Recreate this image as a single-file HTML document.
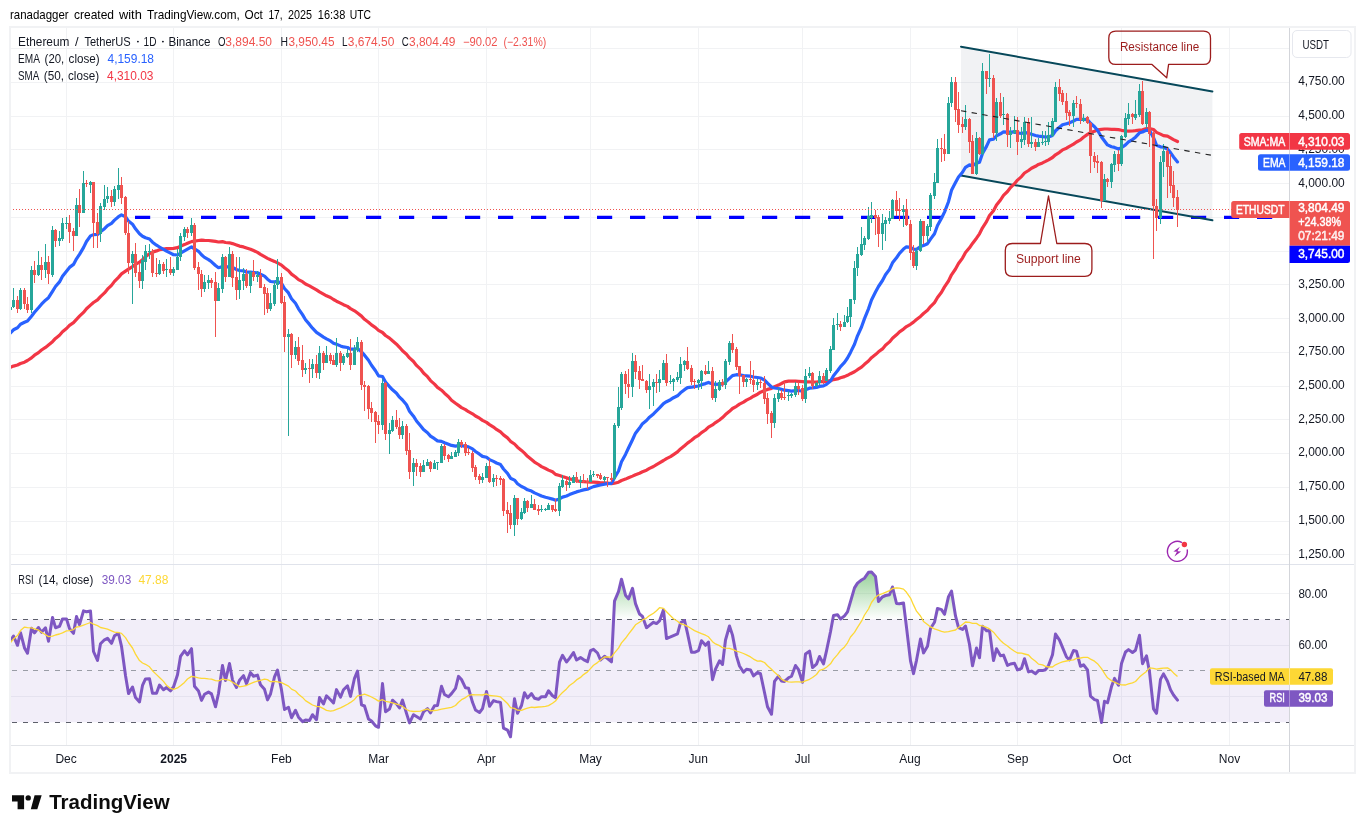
<!DOCTYPE html><html><head><meta charset="utf-8"><title>ETHUSDT</title><style>html,body{margin:0;padding:0;background:#fff;overflow:hidden}body{width:1365px;height:833px;font-family:"Liberation Sans",sans-serif}</style></head><body><svg width="1365" height="833" viewBox="0 0 1365 833" style="display:block;font-family:'Liberation Sans',sans-serif;will-change:transform">
<defs>
<clipPath id="cm"><rect x="10.5" y="27.5" width="1279" height="536.5"/></clipPath>
<clipPath id="cr"><rect x="10.5" y="565" width="1279" height="180"/></clipPath>
<clipPath id="cob"><rect x="10.5" y="565" width="1279" height="54.5"/></clipPath>
<linearGradient id="gob" x1="0" y1="542" x2="0" y2="619.3" gradientUnits="userSpaceOnUse"><stop offset="0" stop-color="#4caf50" stop-opacity="1"/><stop offset="1" stop-color="#4caf50" stop-opacity="0"/></linearGradient>
</defs>
<rect width="1365" height="833" fill="#fff"/>
<g stroke="#f1f2f4" stroke-width="1" shape-rendering="crispEdges">
<line x1="66.5" y1="28" x2="66.5" y2="745"/>
<line x1="173.5" y1="28" x2="173.5" y2="745"/>
<line x1="281.5" y1="28" x2="281.5" y2="745"/>
<line x1="378.5" y1="28" x2="378.5" y2="745"/>
<line x1="486.5" y1="28" x2="486.5" y2="745"/>
<line x1="590.5" y1="28" x2="590.5" y2="745"/>
<line x1="698.5" y1="28" x2="698.5" y2="745"/>
<line x1="802.5" y1="28" x2="802.5" y2="745"/>
<line x1="910.5" y1="28" x2="910.5" y2="745"/>
<line x1="1017.5" y1="28" x2="1017.5" y2="745"/>
<line x1="1121.5" y1="28" x2="1121.5" y2="745"/>
<line x1="1229.5" y1="28" x2="1229.5" y2="745"/>
<line x1="11" y1="554.5" x2="1289" y2="554.5"/>
<line x1="11" y1="521.5" x2="1289" y2="521.5"/>
<line x1="11" y1="487.5" x2="1289" y2="487.5"/>
<line x1="11" y1="453.5" x2="1289" y2="453.5"/>
<line x1="11" y1="419.5" x2="1289" y2="419.5"/>
<line x1="11" y1="386.5" x2="1289" y2="386.5"/>
<line x1="11" y1="352.5" x2="1289" y2="352.5"/>
<line x1="11" y1="318.5" x2="1289" y2="318.5"/>
<line x1="11" y1="284.5" x2="1289" y2="284.5"/>
<line x1="11" y1="251.5" x2="1289" y2="251.5"/>
<line x1="11" y1="217.5" x2="1289" y2="217.5"/>
<line x1="11" y1="183.5" x2="1289" y2="183.5"/>
<line x1="11" y1="149.5" x2="1289" y2="149.5"/>
<line x1="11" y1="116.5" x2="1289" y2="116.5"/>
<line x1="11" y1="82.5" x2="1289" y2="82.5"/>
<line x1="11" y1="48.5" x2="1289" y2="48.5"/>
<line x1="11" y1="696.5" x2="1289" y2="696.5"/>
<line x1="11" y1="645.5" x2="1289" y2="645.5"/>
<line x1="11" y1="593.5" x2="1289" y2="593.5"/>
</g>
<g clip-path="url(#cm)">
<polygon points="961.0,46.2 1212.4,90.9 1212.4,220.0 961.0,175.2" fill="#8a93a6" fill-opacity="0.12"/>
<line x1="135" y1="217.4" x2="1289" y2="217.4" stroke="#0000ff" stroke-width="3.2" stroke-dasharray="15.2 17.8"/>
<line x1="961.0" y1="46.7" x2="1212.4" y2="91.4" stroke="#07485a" stroke-width="2" stroke-linecap="round"/>
<line x1="961.0" y1="175.5" x2="1212.4" y2="220.3" stroke="#07485a" stroke-width="2" stroke-linecap="round"/>
<polyline points="10.5,367.3 13.5,366.1 17.5,365.0 20.5,363.5 24.5,362.2 27.5,360.5 31.5,357.9 34.5,355.2 38.5,352.6 41.5,350.0 45.5,347.4 48.5,345.0 52.5,341.7 55.5,338.4 59.5,335.2 62.5,331.8 66.5,328.5 69.5,325.3 73.5,322.6 76.5,319.3 79.5,316.2 83.5,312.4 86.5,308.7 90.5,305.1 93.5,302.5 97.5,299.9 100.5,296.6 104.5,292.9 107.5,289.2 111.5,285.4 114.5,281.4 118.5,277.4 121.5,273.9 125.5,271.2 128.5,269.1 132.5,266.6 135.5,264.3 139.5,262.2 142.5,259.6 145.5,256.6 149.5,253.7 152.5,252.1 156.5,250.9 159.5,249.7 163.5,249.1 166.5,248.6 170.5,248.7 173.5,248.4 177.5,247.7 180.5,246.2 184.5,244.6 187.5,243.3 191.5,241.6 194.5,241.1 198.5,240.5 201.5,240.1 204.5,240.4 208.5,240.5 211.5,240.8 215.5,241.4 218.5,242.0 222.5,241.6 225.5,242.5 229.5,242.8 232.5,243.6 236.5,244.9 239.5,246.1 243.5,246.9 246.5,247.9 250.5,249.2 253.5,250.5 257.5,252.4 260.5,254.4 264.5,256.7 267.5,258.4 270.5,259.8 274.5,261.4 277.5,262.9 281.5,265.1 284.5,267.8 288.5,270.7 291.5,274.1 295.5,277.0 298.5,279.6 302.5,281.7 305.5,284.0 309.5,285.9 312.5,287.6 316.5,289.9 319.5,291.9 323.5,294.1 326.5,295.8 330.5,297.5 333.5,299.5 336.5,301.2 340.5,303.1 343.5,304.7 347.5,306.4 350.5,308.6 354.5,310.8 357.5,313.1 361.5,316.1 364.5,319.3 368.5,322.2 371.5,324.9 375.5,327.6 378.5,330.4 382.5,332.5 385.5,335.5 389.5,338.1 392.5,340.8 396.5,344.2 399.5,347.3 402.5,350.8 406.5,354.2 409.5,357.9 413.5,361.5 416.5,365.4 420.5,369.1 423.5,373.0 427.5,376.7 430.5,380.6 434.5,384.1 437.5,387.4 441.5,390.2 444.5,393.2 448.5,396.7 451.5,400.3 455.5,403.3 458.5,405.4 461.5,407.6 465.5,409.6 468.5,411.7 472.5,413.8 475.5,416.0 479.5,418.2 482.5,420.4 486.5,422.4 489.5,424.6 493.5,427.1 496.5,429.4 500.5,431.9 503.5,434.9 507.5,437.9 510.5,441.3 514.5,444.0 517.5,447.2 521.5,450.4 524.5,453.1 527.5,456.3 531.5,459.6 534.5,462.1 538.5,464.5 541.5,466.6 545.5,468.5 548.5,470.1 552.5,471.8 555.5,474.4 559.5,475.5 562.5,476.5 566.5,477.7 569.5,478.9 573.5,479.7 576.5,480.8 580.5,481.4 583.5,481.6 587.5,482.0 590.5,482.2 593.5,482.2 597.5,482.4 600.5,482.8 604.5,482.9 607.5,483.2 611.5,483.6 614.5,483.2 618.5,482.2 621.5,480.5 625.5,479.1 628.5,477.8 632.5,476.1 635.5,474.7 639.5,473.2 642.5,471.8 646.5,470.2 649.5,468.4 653.5,466.5 656.5,464.6 659.5,462.8 663.5,460.5 666.5,458.6 670.5,456.6 673.5,454.6 677.5,451.9 680.5,448.9 684.5,445.7 687.5,443.1 691.5,440.3 694.5,437.7 698.5,435.3 701.5,432.6 705.5,430.0 708.5,427.2 712.5,424.9 715.5,422.6 719.5,420.0 722.5,417.6 725.5,414.6 729.5,411.3 732.5,408.5 736.5,406.3 739.5,404.1 743.5,402.1 746.5,400.1 750.5,398.1 753.5,396.2 757.5,394.2 760.5,392.2 764.5,390.6 767.5,389.4 771.5,388.4 774.5,386.7 778.5,385.1 781.5,383.5 784.5,381.8 788.5,381.2 791.5,381.0 795.5,381.2 798.5,381.3 802.5,381.6 805.5,381.8 809.5,381.9 812.5,382.0 816.5,382.0 819.5,381.7 823.5,381.6 826.5,381.4 830.5,380.7 833.5,379.6 837.5,378.9 840.5,377.7 844.5,376.6 847.5,375.3 850.5,373.7 854.5,371.8 857.5,369.7 861.5,367.2 864.5,364.3 868.5,361.0 871.5,357.7 875.5,354.6 878.5,351.8 882.5,348.9 885.5,345.3 889.5,341.9 892.5,338.3 896.5,334.8 899.5,331.8 903.5,329.1 906.5,326.6 910.5,324.3 913.5,322.1 916.5,319.5 920.5,316.4 923.5,313.5 927.5,310.3 930.5,306.6 934.5,302.6 937.5,297.5 941.5,292.3 944.5,286.9 948.5,281.0 951.5,274.8 955.5,269.0 958.5,263.5 962.5,258.1 965.5,252.6 969.5,247.8 972.5,243.4 976.5,238.2 979.5,233.8 982.5,227.8 986.5,221.6 989.5,215.5 993.5,210.7 996.5,205.1 1000.5,200.0 1003.5,195.3 1007.5,191.5 1010.5,187.6 1014.5,183.7 1017.5,180.1 1021.5,176.6 1024.5,173.0 1028.5,170.5 1031.5,168.3 1035.5,166.3 1038.5,164.4 1042.5,162.9 1045.5,161.4 1048.5,159.8 1052.5,157.5 1055.5,154.8 1059.5,152.3 1062.5,149.9 1066.5,148.2 1069.5,146.3 1073.5,144.1 1076.5,142.0 1080.5,139.9 1083.5,137.2 1087.5,134.4 1090.5,132.5 1094.5,131.3 1097.5,129.9 1101.5,129.4 1104.5,129.0 1107.5,129.0 1111.5,129.3 1114.5,129.4 1118.5,129.6 1121.5,130.3 1125.5,131.0 1128.5,131.1 1132.5,131.0 1135.5,130.7 1139.5,130.1 1142.5,129.8 1146.5,128.6 1149.5,128.5 1153.5,129.5 1156.5,132.4 1160.5,134.1 1163.5,135.6 1167.5,136.2 1170.5,137.9 1173.5,139.6 1177.5,141.5" fill="none" stroke="#f23645" stroke-width="3.2" stroke-linejoin="round" stroke-linecap="round"/>
<polyline points="10.5,332.9 13.5,329.8 17.5,327.8 20.5,324.2 24.5,322.3 27.5,321.1 31.5,316.3 34.5,312.3 38.5,307.8 41.5,304.2 45.5,300.2 48.5,297.7 52.5,291.3 55.5,286.5 59.5,281.9 62.5,276.3 66.5,271.2 69.5,267.4 73.5,264.4 76.5,258.8 79.5,254.4 83.5,247.6 86.5,241.5 90.5,235.9 93.5,234.6 97.5,234.5 100.5,231.8 104.5,228.7 107.5,225.6 111.5,223.3 114.5,220.1 118.5,216.7 121.5,214.9 125.5,216.7 128.5,221.1 132.5,224.2 135.5,228.8 139.5,233.7 142.5,236.2 145.5,237.7 149.5,239.0 152.5,242.2 156.5,245.2 159.5,247.0 163.5,249.3 166.5,251.1 170.5,253.2 173.5,254.7 177.5,255.0 180.5,253.2 184.5,250.8 187.5,249.1 191.5,246.8 194.5,248.8 198.5,251.3 201.5,254.8 204.5,257.4 208.5,259.6 211.5,261.8 215.5,265.5 218.5,267.7 222.5,266.6 225.5,267.6 229.5,266.3 232.5,267.4 236.5,269.5 239.5,270.5 243.5,270.8 246.5,272.2 250.5,272.2 253.5,272.6 257.5,272.8 260.5,274.3 264.5,276.1 267.5,279.2 270.5,281.5 274.5,281.8 277.5,281.4 281.5,283.4 284.5,288.5 288.5,292.9 291.5,298.7 295.5,303.3 298.5,308.8 302.5,314.6 305.5,319.7 309.5,324.4 312.5,328.2 316.5,332.4 319.5,334.4 323.5,337.1 326.5,338.8 330.5,340.9 333.5,343.2 336.5,344.2 340.5,345.9 343.5,346.9 347.5,347.5 350.5,349.2 354.5,349.1 357.5,348.5 361.5,351.9 364.5,355.2 368.5,360.3 371.5,365.3 375.5,370.7 378.5,375.8 382.5,376.5 385.5,382.0 389.5,386.6 392.5,389.8 396.5,393.3 399.5,397.2 402.5,400.0 406.5,404.8 409.5,411.2 413.5,416.2 416.5,421.0 420.5,425.8 423.5,429.6 427.5,432.7 430.5,436.1 434.5,438.7 437.5,440.9 441.5,441.4 444.5,442.8 448.5,444.3 451.5,445.4 455.5,446.1 458.5,445.7 461.5,445.6 465.5,446.3 468.5,446.9 472.5,448.9 475.5,451.5 479.5,454.2 482.5,456.4 486.5,457.3 489.5,459.6 493.5,461.4 496.5,463.0 500.5,464.6 503.5,469.0 507.5,473.3 510.5,478.2 514.5,480.1 517.5,483.7 521.5,486.5 524.5,487.9 527.5,489.8 531.5,491.1 534.5,492.9 538.5,494.6 541.5,496.0 545.5,497.2 548.5,498.0 552.5,499.1 555.5,500.2 559.5,498.9 562.5,497.1 566.5,496.0 569.5,494.6 573.5,493.0 576.5,491.9 580.5,490.8 583.5,489.9 587.5,489.2 590.5,487.9 593.5,486.6 597.5,485.6 600.5,485.0 604.5,484.2 607.5,483.7 611.5,483.3 614.5,477.7 618.5,471.0 621.5,461.8 625.5,454.4 628.5,448.0 632.5,439.7 635.5,433.2 639.5,428.1 642.5,423.7 646.5,420.5 649.5,417.2 653.5,413.9 656.5,410.9 659.5,407.9 663.5,403.6 666.5,401.7 670.5,399.7 673.5,397.7 677.5,395.8 680.5,392.8 684.5,389.7 687.5,387.7 691.5,387.2 694.5,386.6 698.5,386.0 701.5,384.6 705.5,383.6 708.5,382.4 712.5,383.9 715.5,384.4 719.5,384.2 722.5,384.2 725.5,382.0 729.5,378.3 732.5,375.6 736.5,374.7 739.5,374.8 743.5,375.5 746.5,375.8 750.5,376.2 753.5,377.0 757.5,377.5 760.5,378.0 764.5,380.0 767.5,383.2 771.5,387.0 774.5,388.0 778.5,388.5 781.5,389.4 784.5,390.2 788.5,390.7 791.5,391.1 795.5,390.6 798.5,390.5 802.5,391.3 805.5,389.8 809.5,388.2 812.5,387.9 816.5,387.4 819.5,386.4 823.5,385.9 826.5,384.4 830.5,381.0 833.5,375.7 837.5,370.8 840.5,366.6 844.5,362.4 847.5,358.0 850.5,352.4 854.5,344.3 857.5,335.8 861.5,327.0 864.5,318.6 868.5,308.8 871.5,299.9 875.5,292.1 878.5,286.5 882.5,280.5 885.5,274.7 889.5,269.4 892.5,262.8 896.5,257.8 899.5,253.3 903.5,249.1 906.5,246.8 910.5,247.4 913.5,249.1 916.5,249.3 920.5,246.6 923.5,245.6 927.5,243.7 930.5,239.1 934.5,233.7 937.5,225.5 941.5,218.3 944.5,212.1 948.5,201.7 951.5,190.3 955.5,182.6 958.5,177.1 962.5,172.3 965.5,167.3 969.5,164.8 972.5,165.7 976.5,163.1 979.5,162.2 982.5,153.5 986.5,146.4 989.5,139.9 993.5,139.2 996.5,135.7 1000.5,133.8 1003.5,131.9 1007.5,132.2 1010.5,132.1 1014.5,131.9 1017.5,132.9 1021.5,133.5 1024.5,132.4 1028.5,133.4 1031.5,134.3 1035.5,135.5 1038.5,136.1 1042.5,136.6 1045.5,137.0 1048.5,136.9 1052.5,135.4 1055.5,130.8 1059.5,127.2 1062.5,124.8 1066.5,123.7 1069.5,122.9 1073.5,121.0 1076.5,119.4 1080.5,119.4 1083.5,119.3 1087.5,119.7 1090.5,123.2 1094.5,126.8 1097.5,130.3 1101.5,137.0 1104.5,141.0 1107.5,144.9 1111.5,146.7 1114.5,147.4 1118.5,148.9 1121.5,147.7 1125.5,144.9 1128.5,141.9 1132.5,139.6 1135.5,137.2 1139.5,132.8 1142.5,132.0 1146.5,130.1 1149.5,130.4 1153.5,137.6 1156.5,145.2 1160.5,146.8 1163.5,147.2 1167.5,149.1 1170.5,152.6 1173.5,156.9 1177.5,161.9" fill="none" stroke="#2962ff" stroke-width="3.2" stroke-linejoin="round" stroke-linecap="round"/>
<g shape-rendering="crispEdges"><rect x="10" y="300" width="1" height="16" fill="#26a69a"/><rect x="13" y="288" width="1" height="20" fill="#26a69a"/><rect x="17" y="296" width="1" height="17" fill="#ef5350"/><rect x="20" y="288" width="1" height="22" fill="#26a69a"/><rect x="24" y="288" width="1" height="21" fill="#ef5350"/><rect x="27" y="297" width="1" height="16" fill="#ef5350"/><rect x="31" y="266" width="1" height="47" fill="#26a69a"/><rect x="34" y="261" width="1" height="22" fill="#ef5350"/><rect x="38" y="251" width="1" height="25" fill="#26a69a"/><rect x="41" y="257" width="1" height="23" fill="#ef5350"/><rect x="45" y="244" width="1" height="34" fill="#26a69a"/><rect x="48" y="256" width="1" height="28" fill="#ef5350"/><rect x="52" y="226" width="1" height="51" fill="#26a69a"/><rect x="55" y="229" width="1" height="18" fill="#ef5350"/><rect x="59" y="231" width="1" height="15" fill="#26a69a"/><rect x="62" y="218" width="1" height="23" fill="#26a69a"/><rect x="66" y="217" width="1" height="12" fill="#26a69a"/><rect x="69" y="215" width="1" height="28" fill="#ef5350"/><rect x="73" y="228" width="1" height="23" fill="#ef5350"/><rect x="76" y="198" width="1" height="38" fill="#26a69a"/><rect x="79" y="189" width="1" height="38" fill="#ef5350"/><rect x="83" y="171" width="1" height="42" fill="#26a69a"/><rect x="86" y="180" width="1" height="7" fill="#ef5350"/><rect x="90" y="181" width="1" height="12" fill="#26a69a"/><rect x="93" y="182" width="1" height="66" fill="#ef5350"/><rect x="97" y="213" width="1" height="35" fill="#ef5350"/><rect x="100" y="203" width="1" height="39" fill="#26a69a"/><rect x="104" y="185" width="1" height="25" fill="#26a69a"/><rect x="107" y="187" width="1" height="16" fill="#26a69a"/><rect x="111" y="190" width="1" height="17" fill="#ef5350"/><rect x="114" y="186" width="1" height="20" fill="#26a69a"/><rect x="118" y="168" width="1" height="31" fill="#26a69a"/><rect x="121" y="177" width="1" height="27" fill="#ef5350"/><rect x="125" y="196" width="1" height="39" fill="#ef5350"/><rect x="128" y="221" width="1" height="53" fill="#ef5350"/><rect x="132" y="251" width="1" height="53" fill="#26a69a"/><rect x="135" y="243" width="1" height="34" fill="#ef5350"/><rect x="139" y="264" width="1" height="24" fill="#ef5350"/><rect x="142" y="255" width="1" height="34" fill="#26a69a"/><rect x="145" y="245" width="1" height="25" fill="#26a69a"/><rect x="149" y="244" width="1" height="15" fill="#26a69a"/><rect x="152" y="249" width="1" height="28" fill="#ef5350"/><rect x="156" y="258" width="1" height="19" fill="#ef5350"/><rect x="159" y="260" width="1" height="15" fill="#26a69a"/><rect x="163" y="262" width="1" height="12" fill="#ef5350"/><rect x="166" y="259" width="1" height="18" fill="#26a69a"/><rect x="170" y="257" width="1" height="18" fill="#ef5350"/><rect x="173" y="267" width="1" height="9" fill="#26a69a"/><rect x="177" y="249" width="1" height="21" fill="#26a69a"/><rect x="180" y="233" width="1" height="28" fill="#26a69a"/><rect x="184" y="227" width="1" height="14" fill="#26a69a"/><rect x="187" y="227" width="1" height="11" fill="#ef5350"/><rect x="191" y="218" width="1" height="18" fill="#26a69a"/><rect x="194" y="223" width="1" height="47" fill="#ef5350"/><rect x="198" y="262" width="1" height="28" fill="#ef5350"/><rect x="201" y="270" width="1" height="27" fill="#ef5350"/><rect x="204" y="275" width="1" height="17" fill="#26a69a"/><rect x="208" y="275" width="1" height="14" fill="#26a69a"/><rect x="211" y="278" width="1" height="10" fill="#ef5350"/><rect x="215" y="272" width="1" height="65" fill="#ef5350"/><rect x="218" y="283" width="1" height="18" fill="#26a69a"/><rect x="222" y="254" width="1" height="39" fill="#26a69a"/><rect x="225" y="256" width="1" height="26" fill="#ef5350"/><rect x="229" y="247" width="1" height="30" fill="#26a69a"/><rect x="232" y="251" width="1" height="36" fill="#ef5350"/><rect x="236" y="257" width="1" height="43" fill="#ef5350"/><rect x="239" y="257" width="1" height="42" fill="#26a69a"/><rect x="243" y="268" width="1" height="22" fill="#26a69a"/><rect x="246" y="269" width="1" height="19" fill="#ef5350"/><rect x="250" y="271" width="1" height="22" fill="#26a69a"/><rect x="253" y="260" width="1" height="21" fill="#ef5350"/><rect x="257" y="271" width="1" height="11" fill="#26a69a"/><rect x="260" y="269" width="1" height="19" fill="#ef5350"/><rect x="264" y="284" width="1" height="31" fill="#ef5350"/><rect x="267" y="288" width="1" height="25" fill="#ef5350"/><rect x="270" y="293" width="1" height="18" fill="#26a69a"/><rect x="274" y="281" width="1" height="25" fill="#26a69a"/><rect x="277" y="259" width="1" height="30" fill="#26a69a"/><rect x="281" y="273" width="1" height="31" fill="#ef5350"/><rect x="284" y="296" width="1" height="56" fill="#ef5350"/><rect x="288" y="329" width="1" height="107" fill="#26a69a"/><rect x="291" y="333" width="1" height="35" fill="#ef5350"/><rect x="295" y="341" width="1" height="18" fill="#26a69a"/><rect x="298" y="337" width="1" height="28" fill="#ef5350"/><rect x="302" y="345" width="1" height="32" fill="#ef5350"/><rect x="305" y="363" width="1" height="11" fill="#26a69a"/><rect x="309" y="359" width="1" height="24" fill="#ef5350"/><rect x="312" y="359" width="1" height="19" fill="#26a69a"/><rect x="316" y="355" width="1" height="23" fill="#ef5350"/><rect x="319" y="346" width="1" height="33" fill="#26a69a"/><rect x="323" y="351" width="1" height="19" fill="#ef5350"/><rect x="326" y="346" width="1" height="17" fill="#26a69a"/><rect x="330" y="353" width="1" height="11" fill="#ef5350"/><rect x="333" y="355" width="1" height="10" fill="#ef5350"/><rect x="336" y="338" width="1" height="29" fill="#26a69a"/><rect x="340" y="351" width="1" height="20" fill="#ef5350"/><rect x="343" y="354" width="1" height="11" fill="#26a69a"/><rect x="347" y="349" width="1" height="9" fill="#26a69a"/><rect x="350" y="339" width="1" height="31" fill="#ef5350"/><rect x="354" y="345" width="1" height="20" fill="#26a69a"/><rect x="357" y="337" width="1" height="15" fill="#26a69a"/><rect x="361" y="340" width="1" height="50" fill="#ef5350"/><rect x="364" y="381" width="1" height="30" fill="#ef5350"/><rect x="368" y="385" width="1" height="34" fill="#ef5350"/><rect x="371" y="402" width="1" height="20" fill="#ef5350"/><rect x="375" y="411" width="1" height="32" fill="#ef5350"/><rect x="378" y="415" width="1" height="19" fill="#ef5350"/><rect x="382" y="379" width="1" height="51" fill="#26a69a"/><rect x="385" y="382" width="1" height="58" fill="#ef5350"/><rect x="389" y="423" width="1" height="31" fill="#26a69a"/><rect x="392" y="416" width="1" height="16" fill="#26a69a"/><rect x="396" y="410" width="1" height="19" fill="#ef5350"/><rect x="399" y="418" width="1" height="21" fill="#ef5350"/><rect x="402" y="421" width="1" height="18" fill="#26a69a"/><rect x="406" y="424" width="1" height="31" fill="#ef5350"/><rect x="409" y="433" width="1" height="46" fill="#ef5350"/><rect x="413" y="458" width="1" height="28" fill="#26a69a"/><rect x="416" y="459" width="1" height="17" fill="#ef5350"/><rect x="420" y="463" width="1" height="14" fill="#ef5350"/><rect x="423" y="460" width="1" height="12" fill="#26a69a"/><rect x="427" y="459" width="1" height="7" fill="#26a69a"/><rect x="430" y="461" width="1" height="11" fill="#ef5350"/><rect x="434" y="460" width="1" height="9" fill="#26a69a"/><rect x="437" y="462" width="1" height="8" fill="#26a69a"/><rect x="441" y="444" width="1" height="19" fill="#26a69a"/><rect x="444" y="444" width="1" height="16" fill="#ef5350"/><rect x="448" y="454" width="1" height="8" fill="#ef5350"/><rect x="451" y="452" width="1" height="7" fill="#26a69a"/><rect x="455" y="450" width="1" height="7" fill="#26a69a"/><rect x="458" y="439" width="1" height="17" fill="#26a69a"/><rect x="461" y="440" width="1" height="8" fill="#ef5350"/><rect x="465" y="442" width="1" height="14" fill="#ef5350"/><rect x="468" y="448" width="1" height="7" fill="#ef5350"/><rect x="472" y="451" width="1" height="21" fill="#ef5350"/><rect x="475" y="465" width="1" height="15" fill="#ef5350"/><rect x="479" y="474" width="1" height="10" fill="#ef5350"/><rect x="482" y="473" width="1" height="10" fill="#26a69a"/><rect x="486" y="463" width="1" height="15" fill="#26a69a"/><rect x="489" y="459" width="1" height="24" fill="#ef5350"/><rect x="493" y="474" width="1" height="13" fill="#26a69a"/><rect x="496" y="475" width="1" height="11" fill="#ef5350"/><rect x="500" y="476" width="1" height="9" fill="#ef5350"/><rect x="503" y="478" width="1" height="38" fill="#ef5350"/><rect x="507" y="502" width="1" height="31" fill="#ef5350"/><rect x="510" y="505" width="1" height="24" fill="#ef5350"/><rect x="514" y="495" width="1" height="41" fill="#26a69a"/><rect x="517" y="498" width="1" height="27" fill="#ef5350"/><rect x="521" y="508" width="1" height="12" fill="#26a69a"/><rect x="524" y="498" width="1" height="16" fill="#26a69a"/><rect x="527" y="500" width="1" height="12" fill="#ef5350"/><rect x="531" y="495" width="1" height="13" fill="#26a69a"/><rect x="534" y="499" width="1" height="11" fill="#ef5350"/><rect x="538" y="505" width="1" height="10" fill="#ef5350"/><rect x="541" y="505" width="1" height="7" fill="#26a69a"/><rect x="545" y="508" width="1" height="3" fill="#26a69a"/><rect x="548" y="503" width="1" height="7" fill="#26a69a"/><rect x="552" y="505" width="1" height="7" fill="#ef5350"/><rect x="555" y="499" width="1" height="13" fill="#ef5350"/><rect x="559" y="483" width="1" height="33" fill="#26a69a"/><rect x="562" y="475" width="1" height="13" fill="#26a69a"/><rect x="566" y="479" width="1" height="12" fill="#ef5350"/><rect x="569" y="476" width="1" height="12" fill="#26a69a"/><rect x="573" y="475" width="1" height="8" fill="#26a69a"/><rect x="576" y="472" width="1" height="11" fill="#ef5350"/><rect x="580" y="476" width="1" height="12" fill="#26a69a"/><rect x="583" y="474" width="1" height="9" fill="#ef5350"/><rect x="587" y="478" width="1" height="11" fill="#ef5350"/><rect x="590" y="470" width="1" height="12" fill="#26a69a"/><rect x="593" y="471" width="1" height="6" fill="#26a69a"/><rect x="597" y="474" width="1" height="4" fill="#ef5350"/><rect x="600" y="473" width="1" height="7" fill="#ef5350"/><rect x="604" y="476" width="1" height="6" fill="#26a69a"/><rect x="607" y="477" width="1" height="10" fill="#ef5350"/><rect x="611" y="473" width="1" height="9" fill="#ef5350"/><rect x="614" y="423" width="1" height="57" fill="#26a69a"/><rect x="618" y="387" width="1" height="41" fill="#26a69a"/><rect x="621" y="372" width="1" height="38" fill="#26a69a"/><rect x="625" y="371" width="1" height="23" fill="#ef5350"/><rect x="628" y="369" width="1" height="29" fill="#ef5350"/><rect x="632" y="353" width="1" height="44" fill="#26a69a"/><rect x="635" y="355" width="1" height="24" fill="#ef5350"/><rect x="639" y="366" width="1" height="23" fill="#ef5350"/><rect x="642" y="365" width="1" height="16" fill="#ef5350"/><rect x="646" y="380" width="1" height="13" fill="#ef5350"/><rect x="649" y="374" width="1" height="35" fill="#26a69a"/><rect x="653" y="379" width="1" height="27" fill="#26a69a"/><rect x="656" y="374" width="1" height="19" fill="#ef5350"/><rect x="659" y="370" width="1" height="22" fill="#26a69a"/><rect x="663" y="360" width="1" height="20" fill="#26a69a"/><rect x="666" y="354" width="1" height="32" fill="#ef5350"/><rect x="670" y="375" width="1" height="9" fill="#26a69a"/><rect x="673" y="378" width="1" height="13" fill="#26a69a"/><rect x="677" y="372" width="1" height="10" fill="#26a69a"/><rect x="680" y="357" width="1" height="27" fill="#26a69a"/><rect x="684" y="360" width="1" height="11" fill="#26a69a"/><rect x="687" y="347" width="1" height="23" fill="#ef5350"/><rect x="691" y="365" width="1" height="20" fill="#ef5350"/><rect x="694" y="379" width="1" height="10" fill="#ef5350"/><rect x="698" y="379" width="1" height="11" fill="#26a69a"/><rect x="701" y="370" width="1" height="19" fill="#26a69a"/><rect x="705" y="365" width="1" height="10" fill="#ef5350"/><rect x="708" y="361" width="1" height="13" fill="#26a69a"/><rect x="712" y="367" width="1" height="33" fill="#ef5350"/><rect x="715" y="381" width="1" height="21" fill="#26a69a"/><rect x="719" y="380" width="1" height="11" fill="#26a69a"/><rect x="722" y="379" width="1" height="8" fill="#ef5350"/><rect x="725" y="359" width="1" height="30" fill="#26a69a"/><rect x="729" y="341" width="1" height="24" fill="#26a69a"/><rect x="732" y="334" width="1" height="19" fill="#ef5350"/><rect x="736" y="347" width="1" height="23" fill="#ef5350"/><rect x="739" y="366" width="1" height="28" fill="#ef5350"/><rect x="743" y="375" width="1" height="12" fill="#ef5350"/><rect x="746" y="378" width="1" height="9" fill="#26a69a"/><rect x="750" y="361" width="1" height="23" fill="#ef5350"/><rect x="753" y="370" width="1" height="22" fill="#ef5350"/><rect x="757" y="379" width="1" height="11" fill="#26a69a"/><rect x="760" y="379" width="1" height="9" fill="#ef5350"/><rect x="764" y="376" width="1" height="28" fill="#ef5350"/><rect x="767" y="393" width="1" height="31" fill="#ef5350"/><rect x="771" y="411" width="1" height="27" fill="#ef5350"/><rect x="774" y="394" width="1" height="34" fill="#26a69a"/><rect x="778" y="388" width="1" height="14" fill="#26a69a"/><rect x="781" y="390" width="1" height="10" fill="#ef5350"/><rect x="784" y="382" width="1" height="18" fill="#ef5350"/><rect x="788" y="391" width="1" height="10" fill="#26a69a"/><rect x="791" y="393" width="1" height="5" fill="#26a69a"/><rect x="795" y="382" width="1" height="15" fill="#26a69a"/><rect x="798" y="382" width="1" height="13" fill="#ef5350"/><rect x="802" y="385" width="1" height="16" fill="#ef5350"/><rect x="805" y="369" width="1" height="34" fill="#26a69a"/><rect x="809" y="367" width="1" height="11" fill="#26a69a"/><rect x="812" y="372" width="1" height="17" fill="#ef5350"/><rect x="816" y="382" width="1" height="5" fill="#26a69a"/><rect x="819" y="371" width="1" height="14" fill="#26a69a"/><rect x="823" y="373" width="1" height="11" fill="#ef5350"/><rect x="826" y="368" width="1" height="13" fill="#26a69a"/><rect x="830" y="346" width="1" height="27" fill="#26a69a"/><rect x="833" y="318" width="1" height="32" fill="#26a69a"/><rect x="837" y="313" width="1" height="17" fill="#26a69a"/><rect x="840" y="321" width="1" height="10" fill="#ef5350"/><rect x="844" y="315" width="1" height="12" fill="#26a69a"/><rect x="847" y="307" width="1" height="16" fill="#26a69a"/><rect x="850" y="299" width="1" height="28" fill="#26a69a"/><rect x="854" y="261" width="1" height="43" fill="#26a69a"/><rect x="857" y="247" width="1" height="29" fill="#26a69a"/><rect x="861" y="227" width="1" height="29" fill="#26a69a"/><rect x="864" y="236" width="1" height="14" fill="#26a69a"/><rect x="868" y="207" width="1" height="33" fill="#26a69a"/><rect x="871" y="202" width="1" height="21" fill="#26a69a"/><rect x="875" y="210" width="1" height="25" fill="#ef5350"/><rect x="878" y="215" width="1" height="32" fill="#ef5350"/><rect x="882" y="214" width="1" height="36" fill="#26a69a"/><rect x="885" y="217" width="1" height="24" fill="#26a69a"/><rect x="889" y="211" width="1" height="13" fill="#26a69a"/><rect x="892" y="199" width="1" height="20" fill="#26a69a"/><rect x="896" y="191" width="1" height="25" fill="#ef5350"/><rect x="899" y="198" width="1" height="23" fill="#ef5350"/><rect x="903" y="205" width="1" height="22" fill="#26a69a"/><rect x="906" y="199" width="1" height="27" fill="#ef5350"/><rect x="910" y="220" width="1" height="40" fill="#ef5350"/><rect x="913" y="245" width="1" height="23" fill="#ef5350"/><rect x="916" y="248" width="1" height="22" fill="#26a69a"/><rect x="920" y="219" width="1" height="33" fill="#26a69a"/><rect x="923" y="221" width="1" height="23" fill="#ef5350"/><rect x="927" y="224" width="1" height="18" fill="#26a69a"/><rect x="930" y="193" width="1" height="38" fill="#26a69a"/><rect x="934" y="173" width="1" height="26" fill="#26a69a"/><rect x="937" y="139" width="1" height="44" fill="#26a69a"/><rect x="941" y="138" width="1" height="24" fill="#ef5350"/><rect x="944" y="134" width="1" height="27" fill="#ef5350"/><rect x="948" y="97" width="1" height="57" fill="#26a69a"/><rect x="951" y="77" width="1" height="30" fill="#26a69a"/><rect x="955" y="77" width="1" height="45" fill="#ef5350"/><rect x="958" y="92" width="1" height="41" fill="#ef5350"/><rect x="962" y="117" width="1" height="16" fill="#ef5350"/><rect x="965" y="105" width="1" height="25" fill="#26a69a"/><rect x="969" y="118" width="1" height="35" fill="#ef5350"/><rect x="972" y="135" width="1" height="39" fill="#ef5350"/><rect x="976" y="132" width="1" height="43" fill="#26a69a"/><rect x="979" y="137" width="1" height="18" fill="#ef5350"/><rect x="982" y="63" width="1" height="92" fill="#26a69a"/><rect x="986" y="71" width="1" height="23" fill="#ef5350"/><rect x="989" y="54" width="1" height="33" fill="#26a69a"/><rect x="993" y="75" width="1" height="63" fill="#ef5350"/><rect x="996" y="98" width="1" height="43" fill="#26a69a"/><rect x="1000" y="93" width="1" height="25" fill="#ef5350"/><rect x="1003" y="97" width="1" height="28" fill="#26a69a"/><rect x="1007" y="113" width="1" height="34" fill="#ef5350"/><rect x="1010" y="127" width="1" height="21" fill="#26a69a"/><rect x="1014" y="116" width="1" height="18" fill="#26a69a"/><rect x="1017" y="117" width="1" height="38" fill="#ef5350"/><rect x="1021" y="127" width="1" height="21" fill="#26a69a"/><rect x="1024" y="117" width="1" height="28" fill="#26a69a"/><rect x="1028" y="118" width="1" height="29" fill="#ef5350"/><rect x="1031" y="117" width="1" height="31" fill="#26a69a"/><rect x="1035" y="139" width="1" height="12" fill="#ef5350"/><rect x="1038" y="138" width="1" height="9" fill="#26a69a"/><rect x="1042" y="131" width="1" height="14" fill="#26a69a"/><rect x="1045" y="131" width="1" height="15" fill="#26a69a"/><rect x="1048" y="122" width="1" height="23" fill="#26a69a"/><rect x="1052" y="118" width="1" height="19" fill="#26a69a"/><rect x="1055" y="82" width="1" height="40" fill="#26a69a"/><rect x="1059" y="79" width="1" height="22" fill="#ef5350"/><rect x="1062" y="90" width="1" height="15" fill="#ef5350"/><rect x="1066" y="93" width="1" height="27" fill="#ef5350"/><rect x="1069" y="110" width="1" height="16" fill="#ef5350"/><rect x="1073" y="100" width="1" height="27" fill="#26a69a"/><rect x="1076" y="96" width="1" height="12" fill="#ef5350"/><rect x="1080" y="99" width="1" height="25" fill="#ef5350"/><rect x="1083" y="114" width="1" height="8" fill="#26a69a"/><rect x="1087" y="116" width="1" height="8" fill="#ef5350"/><rect x="1090" y="122" width="1" height="51" fill="#ef5350"/><rect x="1094" y="152" width="1" height="16" fill="#ef5350"/><rect x="1097" y="155" width="1" height="18" fill="#ef5350"/><rect x="1101" y="161" width="1" height="47" fill="#ef5350"/><rect x="1104" y="174" width="1" height="27" fill="#26a69a"/><rect x="1107" y="178" width="1" height="9" fill="#ef5350"/><rect x="1111" y="163" width="1" height="25" fill="#26a69a"/><rect x="1114" y="151" width="1" height="21" fill="#26a69a"/><rect x="1118" y="150" width="1" height="21" fill="#ef5350"/><rect x="1121" y="135" width="1" height="31" fill="#26a69a"/><rect x="1125" y="113" width="1" height="25" fill="#26a69a"/><rect x="1128" y="103" width="1" height="22" fill="#26a69a"/><rect x="1132" y="113" width="1" height="11" fill="#ef5350"/><rect x="1135" y="100" width="1" height="20" fill="#26a69a"/><rect x="1139" y="84" width="1" height="33" fill="#26a69a"/><rect x="1142" y="81" width="1" height="44" fill="#ef5350"/><rect x="1146" y="108" width="1" height="20" fill="#26a69a"/><rect x="1149" y="111" width="1" height="36" fill="#ef5350"/><rect x="1153" y="132" width="1" height="127" fill="#ef5350"/><rect x="1156" y="199" width="1" height="32" fill="#ef5350"/><rect x="1160" y="156" width="1" height="68" fill="#26a69a"/><rect x="1163" y="144" width="1" height="33" fill="#26a69a"/><rect x="1167" y="147" width="1" height="51" fill="#ef5350"/><rect x="1170" y="154" width="1" height="39" fill="#ef5350"/><rect x="1173" y="171" width="1" height="36" fill="#ef5350"/><rect x="1177" y="190" width="1" height="37" fill="#ef5350"/><rect x="9" y="307" width="3" height="3" fill="#26a69a"/><rect x="12" y="300" width="3" height="7" fill="#26a69a"/><rect x="16" y="300" width="3" height="9" fill="#ef5350"/><rect x="19" y="290" width="3" height="19" fill="#26a69a"/><rect x="23" y="290" width="3" height="14" fill="#ef5350"/><rect x="26" y="304" width="3" height="6" fill="#ef5350"/><rect x="30" y="270" width="3" height="40" fill="#26a69a"/><rect x="33" y="270" width="3" height="5" fill="#ef5350"/><rect x="37" y="265" width="3" height="10" fill="#26a69a"/><rect x="40" y="265" width="3" height="5" fill="#ef5350"/><rect x="44" y="262" width="3" height="8" fill="#26a69a"/><rect x="47" y="262" width="3" height="12" fill="#ef5350"/><rect x="51" y="230" width="3" height="45" fill="#26a69a"/><rect x="54" y="230" width="3" height="11" fill="#ef5350"/><rect x="58" y="238" width="3" height="3" fill="#26a69a"/><rect x="61" y="223" width="3" height="16" fill="#26a69a"/><rect x="65" y="223" width="3" height="1" fill="#26a69a"/><rect x="68" y="223" width="3" height="9" fill="#ef5350"/><rect x="72" y="231" width="3" height="5" fill="#ef5350"/><rect x="75" y="205" width="3" height="31" fill="#26a69a"/><rect x="78" y="205" width="3" height="8" fill="#ef5350"/><rect x="82" y="183" width="3" height="30" fill="#26a69a"/><rect x="85" y="183" width="3" height="1" fill="#ef5350"/><rect x="89" y="182" width="3" height="3" fill="#26a69a"/><rect x="92" y="182" width="3" height="41" fill="#ef5350"/><rect x="96" y="222" width="3" height="12" fill="#ef5350"/><rect x="99" y="206" width="3" height="28" fill="#26a69a"/><rect x="103" y="199" width="3" height="8" fill="#26a69a"/><rect x="106" y="196" width="3" height="3" fill="#26a69a"/><rect x="110" y="196" width="3" height="6" fill="#ef5350"/><rect x="113" y="189" width="3" height="13" fill="#26a69a"/><rect x="117" y="185" width="3" height="5" fill="#26a69a"/><rect x="120" y="185" width="3" height="13" fill="#ef5350"/><rect x="124" y="197" width="3" height="36" fill="#ef5350"/><rect x="127" y="233" width="3" height="30" fill="#ef5350"/><rect x="131" y="254" width="3" height="9" fill="#26a69a"/><rect x="134" y="254" width="3" height="19" fill="#ef5350"/><rect x="138" y="272" width="3" height="9" fill="#ef5350"/><rect x="141" y="260" width="3" height="21" fill="#26a69a"/><rect x="144" y="251" width="3" height="11" fill="#26a69a"/><rect x="148" y="251" width="3" height="1" fill="#26a69a"/><rect x="151" y="251" width="3" height="22" fill="#ef5350"/><rect x="155" y="273" width="3" height="1" fill="#ef5350"/><rect x="158" y="264" width="3" height="10" fill="#26a69a"/><rect x="162" y="264" width="3" height="7" fill="#ef5350"/><rect x="165" y="269" width="3" height="1" fill="#26a69a"/><rect x="169" y="269" width="3" height="4" fill="#ef5350"/><rect x="172" y="269" width="3" height="4" fill="#26a69a"/><rect x="176" y="257" width="3" height="13" fill="#26a69a"/><rect x="179" y="236" width="3" height="21" fill="#26a69a"/><rect x="183" y="229" width="3" height="8" fill="#26a69a"/><rect x="186" y="229" width="3" height="4" fill="#ef5350"/><rect x="190" y="225" width="3" height="8" fill="#26a69a"/><rect x="193" y="225" width="3" height="43" fill="#ef5350"/><rect x="197" y="267" width="3" height="7" fill="#ef5350"/><rect x="200" y="274" width="3" height="15" fill="#ef5350"/><rect x="203" y="282" width="3" height="7" fill="#26a69a"/><rect x="207" y="280" width="3" height="3" fill="#26a69a"/><rect x="210" y="280" width="3" height="3" fill="#ef5350"/><rect x="214" y="282" width="3" height="19" fill="#ef5350"/><rect x="217" y="288" width="3" height="13" fill="#26a69a"/><rect x="221" y="257" width="3" height="32" fill="#26a69a"/><rect x="224" y="257" width="3" height="20" fill="#ef5350"/><rect x="228" y="254" width="3" height="23" fill="#26a69a"/><rect x="231" y="254" width="3" height="24" fill="#ef5350"/><rect x="235" y="277" width="3" height="13" fill="#ef5350"/><rect x="238" y="280" width="3" height="10" fill="#26a69a"/><rect x="242" y="274" width="3" height="7" fill="#26a69a"/><rect x="245" y="274" width="3" height="12" fill="#ef5350"/><rect x="249" y="272" width="3" height="14" fill="#26a69a"/><rect x="252" y="272" width="3" height="5" fill="#ef5350"/><rect x="256" y="275" width="3" height="2" fill="#26a69a"/><rect x="259" y="275" width="3" height="13" fill="#ef5350"/><rect x="263" y="287" width="3" height="7" fill="#ef5350"/><rect x="266" y="293" width="3" height="16" fill="#ef5350"/><rect x="269" y="303" width="3" height="6" fill="#26a69a"/><rect x="273" y="285" width="3" height="19" fill="#26a69a"/><rect x="276" y="277" width="3" height="8" fill="#26a69a"/><rect x="280" y="277" width="3" height="26" fill="#ef5350"/><rect x="283" y="302" width="3" height="35" fill="#ef5350"/><rect x="287" y="334" width="3" height="3" fill="#26a69a"/><rect x="290" y="334" width="3" height="21" fill="#ef5350"/><rect x="294" y="347" width="3" height="8" fill="#26a69a"/><rect x="297" y="347" width="3" height="14" fill="#ef5350"/><rect x="301" y="360" width="3" height="10" fill="#ef5350"/><rect x="304" y="368" width="3" height="2" fill="#26a69a"/><rect x="308" y="368" width="3" height="1" fill="#ef5350"/><rect x="311" y="364" width="3" height="5" fill="#26a69a"/><rect x="315" y="364" width="3" height="9" fill="#ef5350"/><rect x="318" y="353" width="3" height="20" fill="#26a69a"/><rect x="322" y="353" width="3" height="10" fill="#ef5350"/><rect x="325" y="355" width="3" height="8" fill="#26a69a"/><rect x="329" y="355" width="3" height="6" fill="#ef5350"/><rect x="332" y="360" width="3" height="5" fill="#ef5350"/><rect x="335" y="353" width="3" height="12" fill="#26a69a"/><rect x="339" y="353" width="3" height="10" fill="#ef5350"/><rect x="342" y="356" width="3" height="7" fill="#26a69a"/><rect x="346" y="353" width="3" height="4" fill="#26a69a"/><rect x="349" y="353" width="3" height="12" fill="#ef5350"/><rect x="353" y="349" width="3" height="16" fill="#26a69a"/><rect x="356" y="342" width="3" height="8" fill="#26a69a"/><rect x="360" y="342" width="3" height="43" fill="#ef5350"/><rect x="363" y="385" width="3" height="2" fill="#ef5350"/><rect x="367" y="386" width="3" height="23" fill="#ef5350"/><rect x="370" y="408" width="3" height="5" fill="#ef5350"/><rect x="374" y="412" width="3" height="10" fill="#ef5350"/><rect x="377" y="421" width="3" height="4" fill="#ef5350"/><rect x="381" y="383" width="3" height="42" fill="#26a69a"/><rect x="384" y="383" width="3" height="51" fill="#ef5350"/><rect x="388" y="430" width="3" height="4" fill="#26a69a"/><rect x="391" y="420" width="3" height="11" fill="#26a69a"/><rect x="395" y="420" width="3" height="7" fill="#ef5350"/><rect x="398" y="427" width="3" height="8" fill="#ef5350"/><rect x="401" y="426" width="3" height="9" fill="#26a69a"/><rect x="405" y="426" width="3" height="25" fill="#ef5350"/><rect x="408" y="450" width="3" height="22" fill="#ef5350"/><rect x="412" y="463" width="3" height="9" fill="#26a69a"/><rect x="415" y="463" width="3" height="4" fill="#ef5350"/><rect x="419" y="466" width="3" height="6" fill="#ef5350"/><rect x="422" y="465" width="3" height="7" fill="#26a69a"/><rect x="426" y="462" width="3" height="4" fill="#26a69a"/><rect x="429" y="462" width="3" height="7" fill="#ef5350"/><rect x="433" y="463" width="3" height="6" fill="#26a69a"/><rect x="436" y="462" width="3" height="1" fill="#26a69a"/><rect x="440" y="446" width="3" height="17" fill="#26a69a"/><rect x="443" y="446" width="3" height="10" fill="#ef5350"/><rect x="447" y="455" width="3" height="4" fill="#ef5350"/><rect x="450" y="456" width="3" height="3" fill="#26a69a"/><rect x="454" y="452" width="3" height="5" fill="#26a69a"/><rect x="457" y="442" width="3" height="11" fill="#26a69a"/><rect x="460" y="442" width="3" height="3" fill="#ef5350"/><rect x="464" y="444" width="3" height="9" fill="#ef5350"/><rect x="467" y="452" width="3" height="1" fill="#ef5350"/><rect x="471" y="453" width="3" height="15" fill="#ef5350"/><rect x="474" y="467" width="3" height="10" fill="#ef5350"/><rect x="478" y="476" width="3" height="4" fill="#ef5350"/><rect x="481" y="477" width="3" height="3" fill="#26a69a"/><rect x="485" y="466" width="3" height="12" fill="#26a69a"/><rect x="488" y="466" width="3" height="16" fill="#ef5350"/><rect x="492" y="478" width="3" height="4" fill="#26a69a"/><rect x="495" y="478" width="3" height="1" fill="#ef5350"/><rect x="499" y="478" width="3" height="2" fill="#ef5350"/><rect x="502" y="479" width="3" height="32" fill="#ef5350"/><rect x="506" y="510" width="3" height="4" fill="#ef5350"/><rect x="509" y="513" width="3" height="12" fill="#ef5350"/><rect x="513" y="498" width="3" height="27" fill="#26a69a"/><rect x="516" y="498" width="3" height="21" fill="#ef5350"/><rect x="520" y="512" width="3" height="7" fill="#26a69a"/><rect x="523" y="501" width="3" height="12" fill="#26a69a"/><rect x="526" y="501" width="3" height="7" fill="#ef5350"/><rect x="530" y="504" width="3" height="4" fill="#26a69a"/><rect x="533" y="504" width="3" height="6" fill="#ef5350"/><rect x="537" y="509" width="3" height="2" fill="#ef5350"/><rect x="540" y="509" width="3" height="1" fill="#26a69a"/><rect x="544" y="509" width="3" height="1" fill="#26a69a"/><rect x="547" y="505" width="3" height="5" fill="#26a69a"/><rect x="551" y="505" width="3" height="5" fill="#ef5350"/><rect x="554" y="509" width="3" height="2" fill="#ef5350"/><rect x="558" y="486" width="3" height="25" fill="#26a69a"/><rect x="561" y="480" width="3" height="7" fill="#26a69a"/><rect x="565" y="481" width="3" height="4" fill="#ef5350"/><rect x="568" y="482" width="3" height="3" fill="#26a69a"/><rect x="572" y="477" width="3" height="6" fill="#26a69a"/><rect x="575" y="477" width="3" height="5" fill="#ef5350"/><rect x="579" y="480" width="3" height="2" fill="#26a69a"/><rect x="582" y="481" width="3" height="1" fill="#ef5350"/><rect x="586" y="481" width="3" height="2" fill="#ef5350"/><rect x="589" y="475" width="3" height="7" fill="#26a69a"/><rect x="592" y="474" width="3" height="1" fill="#26a69a"/><rect x="596" y="474" width="3" height="2" fill="#ef5350"/><rect x="599" y="475" width="3" height="4" fill="#ef5350"/><rect x="603" y="477" width="3" height="3" fill="#26a69a"/><rect x="606" y="477" width="3" height="1" fill="#ef5350"/><rect x="610" y="478" width="3" height="2" fill="#ef5350"/><rect x="613" y="425" width="3" height="54" fill="#26a69a"/><rect x="617" y="407" width="3" height="19" fill="#26a69a"/><rect x="620" y="374" width="3" height="34" fill="#26a69a"/><rect x="624" y="374" width="3" height="10" fill="#ef5350"/><rect x="627" y="384" width="3" height="3" fill="#ef5350"/><rect x="631" y="361" width="3" height="26" fill="#26a69a"/><rect x="634" y="361" width="3" height="11" fill="#ef5350"/><rect x="638" y="371" width="3" height="9" fill="#ef5350"/><rect x="641" y="379" width="3" height="2" fill="#ef5350"/><rect x="645" y="381" width="3" height="9" fill="#ef5350"/><rect x="648" y="386" width="3" height="4" fill="#26a69a"/><rect x="652" y="382" width="3" height="5" fill="#26a69a"/><rect x="655" y="382" width="3" height="1" fill="#ef5350"/><rect x="658" y="379" width="3" height="4" fill="#26a69a"/><rect x="662" y="363" width="3" height="17" fill="#26a69a"/><rect x="665" y="363" width="3" height="20" fill="#ef5350"/><rect x="669" y="381" width="3" height="1" fill="#26a69a"/><rect x="672" y="379" width="3" height="3" fill="#26a69a"/><rect x="676" y="377" width="3" height="3" fill="#26a69a"/><rect x="679" y="364" width="3" height="14" fill="#26a69a"/><rect x="683" y="361" width="3" height="4" fill="#26a69a"/><rect x="686" y="361" width="3" height="8" fill="#ef5350"/><rect x="690" y="368" width="3" height="14" fill="#ef5350"/><rect x="693" y="381" width="3" height="1" fill="#ef5350"/><rect x="697" y="380" width="3" height="3" fill="#26a69a"/><rect x="700" y="371" width="3" height="10" fill="#26a69a"/><rect x="704" y="371" width="3" height="3" fill="#ef5350"/><rect x="707" y="371" width="3" height="3" fill="#26a69a"/><rect x="711" y="371" width="3" height="27" fill="#ef5350"/><rect x="714" y="389" width="3" height="9" fill="#26a69a"/><rect x="718" y="382" width="3" height="8" fill="#26a69a"/><rect x="721" y="382" width="3" height="3" fill="#ef5350"/><rect x="724" y="361" width="3" height="24" fill="#26a69a"/><rect x="728" y="343" width="3" height="19" fill="#26a69a"/><rect x="731" y="343" width="3" height="7" fill="#ef5350"/><rect x="735" y="349" width="3" height="18" fill="#ef5350"/><rect x="738" y="366" width="3" height="10" fill="#ef5350"/><rect x="742" y="375" width="3" height="7" fill="#ef5350"/><rect x="745" y="379" width="3" height="3" fill="#26a69a"/><rect x="749" y="379" width="3" height="1" fill="#ef5350"/><rect x="752" y="380" width="3" height="5" fill="#ef5350"/><rect x="756" y="382" width="3" height="3" fill="#26a69a"/><rect x="759" y="382" width="3" height="1" fill="#ef5350"/><rect x="763" y="383" width="3" height="16" fill="#ef5350"/><rect x="766" y="398" width="3" height="16" fill="#ef5350"/><rect x="770" y="413" width="3" height="10" fill="#ef5350"/><rect x="773" y="398" width="3" height="25" fill="#26a69a"/><rect x="777" y="393" width="3" height="6" fill="#26a69a"/><rect x="780" y="393" width="3" height="5" fill="#ef5350"/><rect x="783" y="397" width="3" height="1" fill="#ef5350"/><rect x="787" y="395" width="3" height="1" fill="#26a69a"/><rect x="790" y="394" width="3" height="2" fill="#26a69a"/><rect x="794" y="386" width="3" height="9" fill="#26a69a"/><rect x="797" y="386" width="3" height="3" fill="#ef5350"/><rect x="801" y="388" width="3" height="11" fill="#ef5350"/><rect x="804" y="376" width="3" height="23" fill="#26a69a"/><rect x="808" y="373" width="3" height="3" fill="#26a69a"/><rect x="811" y="373" width="3" height="13" fill="#ef5350"/><rect x="815" y="383" width="3" height="3" fill="#26a69a"/><rect x="818" y="376" width="3" height="7" fill="#26a69a"/><rect x="822" y="376" width="3" height="5" fill="#ef5350"/><rect x="825" y="370" width="3" height="11" fill="#26a69a"/><rect x="829" y="349" width="3" height="22" fill="#26a69a"/><rect x="832" y="325" width="3" height="25" fill="#26a69a"/><rect x="836" y="324" width="3" height="1" fill="#26a69a"/><rect x="839" y="324" width="3" height="3" fill="#ef5350"/><rect x="843" y="322" width="3" height="5" fill="#26a69a"/><rect x="846" y="316" width="3" height="6" fill="#26a69a"/><rect x="849" y="299" width="3" height="18" fill="#26a69a"/><rect x="853" y="268" width="3" height="32" fill="#26a69a"/><rect x="856" y="254" width="3" height="14" fill="#26a69a"/><rect x="860" y="244" width="3" height="11" fill="#26a69a"/><rect x="863" y="238" width="3" height="7" fill="#26a69a"/><rect x="867" y="216" width="3" height="23" fill="#26a69a"/><rect x="870" y="215" width="3" height="3" fill="#26a69a"/><rect x="874" y="215" width="3" height="3" fill="#ef5350"/><rect x="877" y="217" width="3" height="17" fill="#ef5350"/><rect x="881" y="223" width="3" height="11" fill="#26a69a"/><rect x="884" y="220" width="3" height="4" fill="#26a69a"/><rect x="888" y="218" width="3" height="3" fill="#26a69a"/><rect x="891" y="200" width="3" height="19" fill="#26a69a"/><rect x="895" y="200" width="3" height="11" fill="#ef5350"/><rect x="898" y="210" width="3" height="1" fill="#ef5350"/><rect x="902" y="209" width="3" height="3" fill="#26a69a"/><rect x="905" y="209" width="3" height="16" fill="#ef5350"/><rect x="909" y="224" width="3" height="29" fill="#ef5350"/><rect x="912" y="252" width="3" height="14" fill="#ef5350"/><rect x="915" y="251" width="3" height="15" fill="#26a69a"/><rect x="919" y="221" width="3" height="30" fill="#26a69a"/><rect x="922" y="221" width="3" height="15" fill="#ef5350"/><rect x="926" y="226" width="3" height="10" fill="#26a69a"/><rect x="929" y="195" width="3" height="32" fill="#26a69a"/><rect x="933" y="182" width="3" height="14" fill="#26a69a"/><rect x="936" y="148" width="3" height="35" fill="#26a69a"/><rect x="940" y="148" width="3" height="1" fill="#ef5350"/><rect x="943" y="149" width="3" height="5" fill="#ef5350"/><rect x="947" y="103" width="3" height="51" fill="#26a69a"/><rect x="950" y="82" width="3" height="21" fill="#26a69a"/><rect x="954" y="82" width="3" height="28" fill="#ef5350"/><rect x="957" y="109" width="3" height="16" fill="#ef5350"/><rect x="961" y="124" width="3" height="3" fill="#ef5350"/><rect x="964" y="119" width="3" height="8" fill="#26a69a"/><rect x="968" y="119" width="3" height="23" fill="#ef5350"/><rect x="971" y="141" width="3" height="33" fill="#ef5350"/><rect x="975" y="138" width="3" height="36" fill="#26a69a"/><rect x="978" y="138" width="3" height="16" fill="#ef5350"/><rect x="981" y="71" width="3" height="83" fill="#26a69a"/><rect x="985" y="71" width="3" height="8" fill="#ef5350"/><rect x="988" y="78" width="3" height="1" fill="#26a69a"/><rect x="992" y="78" width="3" height="55" fill="#ef5350"/><rect x="995" y="102" width="3" height="31" fill="#26a69a"/><rect x="999" y="102" width="3" height="14" fill="#ef5350"/><rect x="1002" y="114" width="3" height="1" fill="#26a69a"/><rect x="1006" y="114" width="3" height="21" fill="#ef5350"/><rect x="1009" y="132" width="3" height="3" fill="#26a69a"/><rect x="1013" y="130" width="3" height="3" fill="#26a69a"/><rect x="1016" y="130" width="3" height="12" fill="#ef5350"/><rect x="1020" y="139" width="3" height="3" fill="#26a69a"/><rect x="1023" y="122" width="3" height="18" fill="#26a69a"/><rect x="1027" y="122" width="3" height="22" fill="#ef5350"/><rect x="1030" y="142" width="3" height="2" fill="#26a69a"/><rect x="1034" y="142" width="3" height="5" fill="#ef5350"/><rect x="1037" y="142" width="3" height="5" fill="#26a69a"/><rect x="1041" y="142" width="3" height="1" fill="#26a69a"/><rect x="1044" y="141" width="3" height="1" fill="#26a69a"/><rect x="1047" y="135" width="3" height="7" fill="#26a69a"/><rect x="1051" y="121" width="3" height="15" fill="#26a69a"/><rect x="1054" y="87" width="3" height="35" fill="#26a69a"/><rect x="1058" y="87" width="3" height="7" fill="#ef5350"/><rect x="1061" y="93" width="3" height="9" fill="#ef5350"/><rect x="1065" y="101" width="3" height="12" fill="#ef5350"/><rect x="1068" y="112" width="3" height="4" fill="#ef5350"/><rect x="1072" y="103" width="3" height="13" fill="#26a69a"/><rect x="1075" y="103" width="3" height="1" fill="#ef5350"/><rect x="1079" y="104" width="3" height="16" fill="#ef5350"/><rect x="1082" y="118" width="3" height="3" fill="#26a69a"/><rect x="1086" y="117" width="3" height="6" fill="#ef5350"/><rect x="1089" y="123" width="3" height="33" fill="#ef5350"/><rect x="1093" y="156" width="3" height="6" fill="#ef5350"/><rect x="1096" y="161" width="3" height="2" fill="#ef5350"/><rect x="1100" y="162" width="3" height="39" fill="#ef5350"/><rect x="1103" y="179" width="3" height="22" fill="#26a69a"/><rect x="1106" y="179" width="3" height="3" fill="#ef5350"/><rect x="1110" y="164" width="3" height="18" fill="#26a69a"/><rect x="1113" y="154" width="3" height="11" fill="#26a69a"/><rect x="1117" y="154" width="3" height="10" fill="#ef5350"/><rect x="1120" y="136" width="3" height="28" fill="#26a69a"/><rect x="1124" y="118" width="3" height="19" fill="#26a69a"/><rect x="1127" y="114" width="3" height="5" fill="#26a69a"/><rect x="1131" y="114" width="3" height="3" fill="#ef5350"/><rect x="1134" y="114" width="3" height="4" fill="#26a69a"/><rect x="1138" y="91" width="3" height="24" fill="#26a69a"/><rect x="1141" y="91" width="3" height="33" fill="#ef5350"/><rect x="1145" y="112" width="3" height="12" fill="#26a69a"/><rect x="1148" y="112" width="3" height="22" fill="#ef5350"/><rect x="1152" y="133" width="3" height="73" fill="#ef5350"/><rect x="1155" y="206" width="3" height="12" fill="#ef5350"/><rect x="1159" y="162" width="3" height="56" fill="#26a69a"/><rect x="1162" y="151" width="3" height="11" fill="#26a69a"/><rect x="1166" y="151" width="3" height="16" fill="#ef5350"/><rect x="1169" y="166" width="3" height="20" fill="#ef5350"/><rect x="1172" y="185" width="3" height="13" fill="#ef5350"/><rect x="1176" y="197" width="3" height="13" fill="#ef5350"/></g>
<line x1="961.0" y1="110.7" x2="1212.4" y2="155.4" stroke="#222" stroke-width="1.1" stroke-dasharray="5.4 5.4"/>
<line x1="10" y1="209.5" x2="1289" y2="209.5" stroke="#ef5350" stroke-width="1" stroke-dasharray="1 2"/>
<path d="M1115.8,31.2 H1203.5 Q1210.5,31.2 1210.5,38.2 V57.400000000000006 Q1210.5,64.4 1203.5,64.4 H1168.6 L1166.7,77.8 L1152,64.4 H1115.8 Q1108.8,64.4 1108.8,57.400000000000006 V38.2 Q1108.8,31.2 1115.8,31.2 Z" fill="none" stroke="#9c1c1c" stroke-width="1.3" stroke-linejoin="round"/>
<text x="1119.9" y="51.2" font-size="12" fill="#9c1c1c" textLength="79.3" lengthAdjust="spacingAndGlyphs">Resistance line</text>
<path d="M1012.3,243.5 H1040.4 L1048.5,195.9 L1056.8,243.5 H1084.9 Q1091.9,243.5 1091.9,250.5 V269.3 Q1091.9,276.3 1084.9,276.3 H1012.3 Q1005.3,276.3 1005.3,269.3 V250.5 Q1005.3,243.5 1012.3,243.5 Z" fill="none" stroke="#9c1c1c" stroke-width="1.3" stroke-linejoin="round"/>
<text x="1015.9" y="262.7" font-size="12" fill="#9c1c1c" textLength="65" lengthAdjust="spacingAndGlyphs">Support line</text>
<circle cx="1177.4" cy="551.3" r="12.5" fill="#fff"/>
<path d="M1181.6,542.3 A10,10 0 1 0 1187.3,550.0" fill="none" stroke="#9c27b0" stroke-width="1.4" stroke-linecap="round"/>
<path d="M1179.8,546.8 L1173.4,551.5 L1177.0,551.7 L1174.4,556.6 L1181.1,551.4 L1177.4,551.2 Z" fill="#9c27b0"/>
<circle cx="1184.4" cy="544.5" r="2.7" fill="#f23645"/>
</g>
<g clip-path="url(#cr)">
<rect x="10" y="619.3" width="1280" height="103.0" fill="#7e57c2" fill-opacity="0.1"/>
<g clip-path="url(#cob)"><polygon points="10.5,619.3 10.5,640.4 13.5,636.0 17.5,645.3 20.5,632.7 24.5,647.9 27.5,653.3 31.5,628.3 34.5,632.8 38.5,627.5 41.5,632.3 45.5,627.8 48.5,641.2 52.5,617.4 55.5,627.7 59.5,626.4 62.5,618.9 66.5,618.9 69.5,628.6 73.5,633.3 76.5,616.6 79.5,624.7 83.5,610.9 86.5,611.8 90.5,611.1 93.5,651.5 97.5,660.4 100.5,643.7 104.5,639.8 107.5,638.3 111.5,643.4 114.5,635.8 118.5,633.5 121.5,646.3 125.5,675.5 128.5,693.6 132.5,687.0 135.5,697.6 139.5,701.9 142.5,685.4 145.5,678.9 149.5,678.7 152.5,693.2 156.5,693.2 159.5,685.1 163.5,689.7 166.5,687.6 170.5,690.8 173.5,687.0 177.5,674.8 180.5,656.4 184.5,650.8 187.5,654.9 191.5,648.7 194.5,686.3 198.5,691.0 201.5,700.4 204.5,694.3 208.5,692.1 211.5,693.9 215.5,706.8 218.5,693.5 222.5,665.5 225.5,680.5 229.5,663.5 232.5,680.1 236.5,687.5 239.5,680.3 243.5,675.6 246.5,683.7 250.5,672.6 253.5,676.3 257.5,675.1 260.5,684.8 264.5,689.3 267.5,699.9 270.5,694.0 274.5,676.9 277.5,670.1 281.5,689.9 284.5,709.5 288.5,707.3 291.5,717.7 295.5,710.3 298.5,717.2 302.5,721.6 305.5,720.0 309.5,720.5 312.5,714.7 316.5,719.7 319.5,697.6 323.5,703.9 326.5,695.8 330.5,699.8 333.5,702.9 336.5,689.6 340.5,697.1 343.5,689.8 347.5,685.9 350.5,696.4 354.5,678.3 357.5,671.1 361.5,704.8 364.5,706.0 368.5,719.0 371.5,721.0 375.5,725.8 378.5,727.3 382.5,683.6 385.5,711.7 389.5,708.9 392.5,700.2 396.5,703.8 399.5,708.0 402.5,700.1 406.5,713.4 409.5,722.9 413.5,714.7 416.5,716.5 420.5,719.0 423.5,711.9 427.5,708.7 430.5,712.8 434.5,705.8 437.5,705.4 441.5,686.2 444.5,694.5 448.5,696.8 451.5,693.6 455.5,688.4 458.5,676.4 461.5,679.5 465.5,687.8 468.5,688.2 472.5,702.3 475.5,710.0 479.5,712.5 482.5,708.6 486.5,691.5 489.5,706.3 493.5,700.6 496.5,701.6 500.5,702.4 503.5,728.1 507.5,730.1 510.5,736.8 514.5,698.7 517.5,713.2 521.5,705.5 524.5,692.7 527.5,697.9 531.5,693.6 534.5,698.2 538.5,699.3 541.5,696.7 545.5,696.7 548.5,690.8 552.5,695.8 555.5,697.6 559.5,662.1 562.5,655.3 566.5,662.0 569.5,658.4 573.5,652.5 576.5,660.0 580.5,657.6 583.5,659.6 587.5,661.7 590.5,650.7 593.5,649.3 597.5,653.0 600.5,660.0 604.5,656.3 607.5,658.5 611.5,661.8 614.5,601.1 618.5,591.7 621.5,579.2 625.5,595.2 628.5,598.9 632.5,588.4 635.5,603.6 639.5,614.0 642.5,616.4 646.5,627.7 649.5,625.4 653.5,622.3 656.5,623.6 659.5,620.9 663.5,609.8 666.5,638.5 670.5,636.9 673.5,635.6 677.5,633.8 680.5,622.8 684.5,620.5 687.5,633.4 691.5,652.3 694.5,652.3 698.5,650.6 701.5,640.7 705.5,645.3 708.5,642.1 712.5,679.7 715.5,669.2 719.5,660.8 722.5,664.5 725.5,640.0 729.5,626.0 732.5,635.1 736.5,656.1 739.5,666.0 743.5,672.2 746.5,669.2 750.5,669.9 753.5,675.9 757.5,672.5 760.5,673.7 764.5,692.5 767.5,706.8 771.5,714.3 774.5,681.4 778.5,676.1 781.5,681.0 784.5,681.4 788.5,677.8 791.5,676.2 795.5,665.5 798.5,669.7 802.5,682.3 805.5,654.0 809.5,651.1 812.5,667.6 816.5,664.1 819.5,656.5 823.5,663.9 826.5,650.9 830.5,631.7 833.5,615.5 837.5,614.7 840.5,619.0 844.5,615.8 847.5,611.8 850.5,601.6 854.5,587.9 857.5,583.1 861.5,580.0 864.5,578.2 868.5,572.3 871.5,572.1 875.5,576.5 878.5,601.5 882.5,596.8 885.5,595.5 889.5,594.7 892.5,587.0 896.5,603.5 899.5,603.8 903.5,602.9 906.5,627.4 910.5,660.9 913.5,673.6 916.5,660.3 920.5,639.0 923.5,652.9 927.5,646.3 930.5,628.5 934.5,622.3 937.5,608.4 941.5,609.6 944.5,614.3 948.5,596.6 951.5,591.1 955.5,615.9 958.5,627.7 962.5,629.4 965.5,626.0 969.5,644.3 972.5,665.8 976.5,648.0 979.5,657.8 982.5,626.2 986.5,630.8 989.5,630.5 993.5,660.6 996.5,648.8 1000.5,655.7 1003.5,655.1 1007.5,665.4 1010.5,664.0 1014.5,663.3 1017.5,669.9 1021.5,668.3 1024.5,658.8 1028.5,671.9 1031.5,671.1 1035.5,673.8 1038.5,670.6 1042.5,670.6 1045.5,669.7 1048.5,665.6 1052.5,654.8 1055.5,634.0 1059.5,640.1 1062.5,647.4 1066.5,657.0 1069.5,659.8 1073.5,650.5 1076.5,651.3 1080.5,666.3 1083.5,664.8 1087.5,669.9 1090.5,696.2 1094.5,699.6 1097.5,700.5 1101.5,722.5 1104.5,701.2 1107.5,702.8 1111.5,686.6 1114.5,678.4 1118.5,685.2 1121.5,663.6 1125.5,652.0 1128.5,649.6 1132.5,652.5 1135.5,650.2 1139.5,635.3 1142.5,663.7 1146.5,655.9 1149.5,671.8 1153.5,708.8 1156.5,713.3 1160.5,679.4 1163.5,673.9 1167.5,681.3 1170.5,689.8 1173.5,695.0 1177.5,700.1 1177.5,619.3" fill="url(#gob)" fill-opacity="0.95"/></g>
<line x1="11.8" y1="619.5" x2="1289" y2="619.5" stroke="#5d606b" stroke-width="1" stroke-dasharray="5 5.8" shape-rendering="crispEdges"/>
<line x1="11.8" y1="670.5" x2="1289" y2="670.5" stroke="#9a9da6" stroke-width="1" stroke-dasharray="5 5.8" shape-rendering="crispEdges"/>
<line x1="11.8" y1="722.5" x2="1289" y2="722.5" stroke="#5d606b" stroke-width="1" stroke-dasharray="5 5.8" shape-rendering="crispEdges"/>
<polyline points="10.5,640.4 13.5,636.0 17.5,645.3 20.5,632.7 24.5,647.9 27.5,653.3 31.5,628.3 34.5,632.8 38.5,627.5 41.5,632.3 45.5,627.8 48.5,641.2 52.5,617.4 55.5,627.7 59.5,626.4 62.5,618.9 66.5,618.9 69.5,628.6 73.5,633.3 76.5,616.6 79.5,624.7 83.5,610.9 86.5,611.8 90.5,611.1 93.5,651.5 97.5,660.4 100.5,643.7 104.5,639.8 107.5,638.3 111.5,643.4 114.5,635.8 118.5,633.5 121.5,646.3 125.5,675.5 128.5,693.6 132.5,687.0 135.5,697.6 139.5,701.9 142.5,685.4 145.5,678.9 149.5,678.7 152.5,693.2 156.5,693.2 159.5,685.1 163.5,689.7 166.5,687.6 170.5,690.8 173.5,687.0 177.5,674.8 180.5,656.4 184.5,650.8 187.5,654.9 191.5,648.7 194.5,686.3 198.5,691.0 201.5,700.4 204.5,694.3 208.5,692.1 211.5,693.9 215.5,706.8 218.5,693.5 222.5,665.5 225.5,680.5 229.5,663.5 232.5,680.1 236.5,687.5 239.5,680.3 243.5,675.6 246.5,683.7 250.5,672.6 253.5,676.3 257.5,675.1 260.5,684.8 264.5,689.3 267.5,699.9 270.5,694.0 274.5,676.9 277.5,670.1 281.5,689.9 284.5,709.5 288.5,707.3 291.5,717.7 295.5,710.3 298.5,717.2 302.5,721.6 305.5,720.0 309.5,720.5 312.5,714.7 316.5,719.7 319.5,697.6 323.5,703.9 326.5,695.8 330.5,699.8 333.5,702.9 336.5,689.6 340.5,697.1 343.5,689.8 347.5,685.9 350.5,696.4 354.5,678.3 357.5,671.1 361.5,704.8 364.5,706.0 368.5,719.0 371.5,721.0 375.5,725.8 378.5,727.3 382.5,683.6 385.5,711.7 389.5,708.9 392.5,700.2 396.5,703.8 399.5,708.0 402.5,700.1 406.5,713.4 409.5,722.9 413.5,714.7 416.5,716.5 420.5,719.0 423.5,711.9 427.5,708.7 430.5,712.8 434.5,705.8 437.5,705.4 441.5,686.2 444.5,694.5 448.5,696.8 451.5,693.6 455.5,688.4 458.5,676.4 461.5,679.5 465.5,687.8 468.5,688.2 472.5,702.3 475.5,710.0 479.5,712.5 482.5,708.6 486.5,691.5 489.5,706.3 493.5,700.6 496.5,701.6 500.5,702.4 503.5,728.1 507.5,730.1 510.5,736.8 514.5,698.7 517.5,713.2 521.5,705.5 524.5,692.7 527.5,697.9 531.5,693.6 534.5,698.2 538.5,699.3 541.5,696.7 545.5,696.7 548.5,690.8 552.5,695.8 555.5,697.6 559.5,662.1 562.5,655.3 566.5,662.0 569.5,658.4 573.5,652.5 576.5,660.0 580.5,657.6 583.5,659.6 587.5,661.7 590.5,650.7 593.5,649.3 597.5,653.0 600.5,660.0 604.5,656.3 607.5,658.5 611.5,661.8 614.5,601.1 618.5,591.7 621.5,579.2 625.5,595.2 628.5,598.9 632.5,588.4 635.5,603.6 639.5,614.0 642.5,616.4 646.5,627.7 649.5,625.4 653.5,622.3 656.5,623.6 659.5,620.9 663.5,609.8 666.5,638.5 670.5,636.9 673.5,635.6 677.5,633.8 680.5,622.8 684.5,620.5 687.5,633.4 691.5,652.3 694.5,652.3 698.5,650.6 701.5,640.7 705.5,645.3 708.5,642.1 712.5,679.7 715.5,669.2 719.5,660.8 722.5,664.5 725.5,640.0 729.5,626.0 732.5,635.1 736.5,656.1 739.5,666.0 743.5,672.2 746.5,669.2 750.5,669.9 753.5,675.9 757.5,672.5 760.5,673.7 764.5,692.5 767.5,706.8 771.5,714.3 774.5,681.4 778.5,676.1 781.5,681.0 784.5,681.4 788.5,677.8 791.5,676.2 795.5,665.5 798.5,669.7 802.5,682.3 805.5,654.0 809.5,651.1 812.5,667.6 816.5,664.1 819.5,656.5 823.5,663.9 826.5,650.9 830.5,631.7 833.5,615.5 837.5,614.7 840.5,619.0 844.5,615.8 847.5,611.8 850.5,601.6 854.5,587.9 857.5,583.1 861.5,580.0 864.5,578.2 868.5,572.3 871.5,572.1 875.5,576.5 878.5,601.5 882.5,596.8 885.5,595.5 889.5,594.7 892.5,587.0 896.5,603.5 899.5,603.8 903.5,602.9 906.5,627.4 910.5,660.9 913.5,673.6 916.5,660.3 920.5,639.0 923.5,652.9 927.5,646.3 930.5,628.5 934.5,622.3 937.5,608.4 941.5,609.6 944.5,614.3 948.5,596.6 951.5,591.1 955.5,615.9 958.5,627.7 962.5,629.4 965.5,626.0 969.5,644.3 972.5,665.8 976.5,648.0 979.5,657.8 982.5,626.2 986.5,630.8 989.5,630.5 993.5,660.6 996.5,648.8 1000.5,655.7 1003.5,655.1 1007.5,665.4 1010.5,664.0 1014.5,663.3 1017.5,669.9 1021.5,668.3 1024.5,658.8 1028.5,671.9 1031.5,671.1 1035.5,673.8 1038.5,670.6 1042.5,670.6 1045.5,669.7 1048.5,665.6 1052.5,654.8 1055.5,634.0 1059.5,640.1 1062.5,647.4 1066.5,657.0 1069.5,659.8 1073.5,650.5 1076.5,651.3 1080.5,666.3 1083.5,664.8 1087.5,669.9 1090.5,696.2 1094.5,699.6 1097.5,700.5 1101.5,722.5 1104.5,701.2 1107.5,702.8 1111.5,686.6 1114.5,678.4 1118.5,685.2 1121.5,663.6 1125.5,652.0 1128.5,649.6 1132.5,652.5 1135.5,650.2 1139.5,635.3 1142.5,663.7 1146.5,655.9 1149.5,671.8 1153.5,708.8 1156.5,713.3 1160.5,679.4 1163.5,673.9 1167.5,681.3 1170.5,689.8 1173.5,695.0 1177.5,700.1" fill="none" stroke="#7e57c2" stroke-width="3" stroke-linejoin="round" stroke-linecap="round"/>
<polyline points="10.5,642.7 13.5,639.0 17.5,635.6 20.5,630.6 24.5,627.1 27.5,627.7 31.5,627.9 34.5,628.8 38.5,630.2 41.5,632.3 45.5,634.7 48.5,636.6 52.5,636.1 55.5,635.0 59.5,634.0 62.5,632.8 66.5,630.9 69.5,630.6 73.5,629.6 76.5,627.0 79.5,626.7 83.5,625.2 86.5,624.0 90.5,622.5 93.5,624.2 97.5,625.6 100.5,627.5 104.5,628.3 107.5,629.2 111.5,630.9 114.5,632.1 118.5,632.5 121.5,633.4 125.5,637.6 128.5,642.5 132.5,648.0 135.5,654.1 139.5,660.6 142.5,663.0 145.5,664.3 149.5,666.8 152.5,670.7 156.5,674.6 159.5,677.5 163.5,681.4 166.5,685.3 170.5,688.4 173.5,689.3 177.5,687.9 180.5,685.7 184.5,682.4 187.5,679.0 191.5,676.4 194.5,676.9 198.5,677.8 201.5,678.3 204.5,678.4 208.5,678.9 211.5,679.2 215.5,680.6 218.5,680.8 222.5,679.2 225.5,679.6 229.5,680.2 232.5,682.3 236.5,684.6 239.5,686.8 243.5,686.1 246.5,685.5 250.5,683.6 253.5,682.3 257.5,681.1 260.5,680.4 264.5,679.2 267.5,679.6 270.5,681.7 274.5,681.4 277.5,681.9 281.5,682.6 284.5,684.1 288.5,686.1 291.5,689.1 295.5,691.0 298.5,694.2 302.5,697.4 305.5,700.6 309.5,703.1 312.5,705.0 316.5,706.4 319.5,706.6 323.5,708.6 326.5,710.4 330.5,711.1 333.5,710.6 336.5,709.4 340.5,707.9 343.5,706.4 347.5,704.2 350.5,702.4 354.5,699.4 357.5,695.9 361.5,695.2 364.5,694.2 368.5,695.7 371.5,697.0 375.5,699.1 378.5,701.1 382.5,699.7 385.5,701.3 389.5,702.1 392.5,702.9 396.5,704.1 399.5,705.0 402.5,706.5 406.5,709.5 409.5,710.8 413.5,711.5 416.5,711.3 420.5,711.1 423.5,710.1 427.5,708.8 430.5,710.9 434.5,710.5 437.5,710.2 441.5,709.2 444.5,708.6 448.5,707.8 451.5,707.3 455.5,705.5 458.5,702.2 461.5,699.7 465.5,697.6 468.5,695.4 472.5,694.7 475.5,694.8 479.5,694.8 482.5,695.0 486.5,694.0 489.5,695.5 493.5,695.9 496.5,696.2 500.5,696.9 503.5,699.7 507.5,703.5 510.5,707.6 514.5,708.4 517.5,710.2 521.5,710.4 524.5,709.2 527.5,708.1 531.5,707.1 534.5,707.5 538.5,707.0 541.5,706.8 545.5,706.4 548.5,705.6 552.5,703.3 555.5,701.0 559.5,695.6 562.5,692.5 566.5,688.9 569.5,685.5 573.5,682.7 576.5,679.9 580.5,677.4 583.5,674.6 587.5,671.9 590.5,668.6 593.5,665.3 597.5,662.6 600.5,660.0 604.5,657.0 607.5,656.8 611.5,657.2 614.5,652.9 618.5,648.1 621.5,642.9 625.5,638.3 628.5,634.1 632.5,629.0 635.5,624.8 639.5,622.2 642.5,619.9 646.5,618.1 649.5,615.6 653.5,613.2 656.5,610.7 659.5,607.7 663.5,608.4 666.5,611.7 670.5,615.8 673.5,618.7 677.5,621.2 680.5,623.7 684.5,624.9 687.5,626.3 691.5,628.8 694.5,630.6 698.5,632.4 701.5,633.7 705.5,635.2 708.5,636.8 712.5,641.7 715.5,643.9 719.5,645.6 722.5,647.7 725.5,648.2 729.5,648.4 732.5,649.4 736.5,651.1 739.5,652.0 743.5,653.5 746.5,654.8 750.5,656.9 753.5,659.1 757.5,661.2 760.5,660.8 764.5,662.5 767.5,665.7 771.5,669.3 774.5,672.3 778.5,675.8 781.5,679.1 784.5,680.9 788.5,681.8 791.5,682.1 795.5,681.8 798.5,681.8 802.5,682.2 805.5,680.9 809.5,679.3 812.5,677.5 816.5,674.5 819.5,670.3 823.5,669.1 826.5,667.3 830.5,663.8 833.5,659.1 837.5,654.6 840.5,650.5 844.5,646.9 847.5,642.8 850.5,637.0 854.5,632.3 857.5,627.4 861.5,621.2 864.5,615.0 868.5,609.0 871.5,602.5 875.5,597.2 878.5,595.0 882.5,593.7 885.5,592.3 889.5,590.6 892.5,588.5 896.5,587.9 899.5,588.1 903.5,589.1 906.5,592.3 910.5,598.1 913.5,604.9 916.5,611.2 920.5,616.0 923.5,621.4 927.5,624.6 930.5,626.9 934.5,628.8 937.5,629.8 941.5,631.4 944.5,632.2 948.5,631.6 951.5,630.8 955.5,630.0 958.5,627.6 962.5,624.4 965.5,622.0 969.5,622.4 972.5,623.3 976.5,623.4 979.5,625.5 982.5,625.8 986.5,627.4 989.5,628.9 993.5,632.2 996.5,635.9 1000.5,640.5 1003.5,643.3 1007.5,646.0 1010.5,648.5 1014.5,651.2 1017.5,653.0 1021.5,653.2 1024.5,654.0 1028.5,655.0 1031.5,658.2 1035.5,661.2 1038.5,664.1 1042.5,664.8 1045.5,666.3 1048.5,667.0 1052.5,667.0 1055.5,664.8 1059.5,663.0 1062.5,661.9 1066.5,661.0 1069.5,660.4 1073.5,659.8 1076.5,658.3 1080.5,658.0 1083.5,657.3 1087.5,657.3 1090.5,659.1 1094.5,661.2 1097.5,663.7 1101.5,668.6 1104.5,673.4 1107.5,677.8 1111.5,680.6 1114.5,682.2 1118.5,684.0 1121.5,684.9 1125.5,685.0 1128.5,683.8 1132.5,682.9 1135.5,681.5 1139.5,677.1 1142.5,674.6 1146.5,671.4 1149.5,667.8 1153.5,668.3 1156.5,669.1 1160.5,668.5 1163.5,668.2 1167.5,667.9 1170.5,669.8 1173.5,672.9 1177.5,676.5" fill="none" stroke="#fdd835" stroke-width="1.3" stroke-linejoin="round"/>
</g>
<g shape-rendering="crispEdges" fill="none">
<rect x="10" y="27" width="1345" height="746" stroke="#f1f2f4" stroke-width="2"/>
<line x1="11" y1="564.5" x2="1354" y2="564.5" stroke="#e0e3eb" stroke-width="1"/>
<line x1="11" y1="745.5" x2="1354" y2="745.5" stroke="#e2e4e8"/>
<line x1="1289.5" y1="28" x2="1289.5" y2="772" stroke="#d3d5da"/>
</g>
<text x="10" y="19.2" font-size="13" fill="#000" textLength="58.6" lengthAdjust="spacingAndGlyphs">ranadagger</text>
<text x="74" y="19.2" font-size="13" fill="#000" textLength="40" lengthAdjust="spacingAndGlyphs">created</text>
<text x="119" y="19.2" font-size="13" fill="#000" textLength="22.8" lengthAdjust="spacingAndGlyphs">with</text>
<text x="147" y="19.2" font-size="13" fill="#000" textLength="92.8" lengthAdjust="spacingAndGlyphs">TradingView.com,</text>
<text x="244.5" y="19.2" font-size="13" fill="#000" textLength="18.3" lengthAdjust="spacingAndGlyphs">Oct</text>
<text x="268.4" y="19.2" font-size="13" fill="#000" textLength="14.2" lengthAdjust="spacingAndGlyphs">17,</text>
<text x="287.9" y="19.2" font-size="13" fill="#000" textLength="24.0" lengthAdjust="spacingAndGlyphs">2025</text>
<text x="317.8" y="19.2" font-size="13" fill="#000" textLength="27.5" lengthAdjust="spacingAndGlyphs">16:38</text>
<text x="349.7" y="19.2" font-size="13" fill="#000" textLength="21.3" lengthAdjust="spacingAndGlyphs">UTC</text>
<text x="18" y="45.6" font-size="12" fill="#131722" textLength="51.4" lengthAdjust="spacingAndGlyphs">Ethereum</text>
<text x="75" y="45.6" font-size="12" fill="#131722" textLength="3.6" lengthAdjust="spacingAndGlyphs">/</text>
<text x="84.4" y="45.6" font-size="12" fill="#131722" textLength="46.3" lengthAdjust="spacingAndGlyphs">TetherUS</text>
<text x="143.6" y="45.6" font-size="12" fill="#131722" textLength="12.9" lengthAdjust="spacingAndGlyphs">1D</text>
<text x="168.5" y="45.6" font-size="12" fill="#131722" textLength="42" lengthAdjust="spacingAndGlyphs">Binance</text>
<text x="217.9" y="45.6" font-size="12" fill="#131722" textLength="7.5" lengthAdjust="spacingAndGlyphs">O</text>
<text x="225.3" y="45.6" font-size="12" fill="#ef5350" textLength="46.7" lengthAdjust="spacingAndGlyphs">3,894.50</text>
<text x="280.5" y="45.6" font-size="12" fill="#131722" textLength="7.5" lengthAdjust="spacingAndGlyphs">H</text>
<text x="288.5" y="45.6" font-size="12" fill="#ef5350" textLength="46" lengthAdjust="spacingAndGlyphs">3,950.45</text>
<text x="341.9" y="45.6" font-size="12" fill="#131722" textLength="5.5" lengthAdjust="spacingAndGlyphs">L</text>
<text x="347.8" y="45.6" font-size="12" fill="#ef5350" textLength="46.5" lengthAdjust="spacingAndGlyphs">3,674.50</text>
<text x="401.8" y="45.6" font-size="12" fill="#131722" textLength="7" lengthAdjust="spacingAndGlyphs">C</text>
<text x="409" y="45.6" font-size="12" fill="#ef5350" textLength="46.5" lengthAdjust="spacingAndGlyphs">3,804.49</text>
<text x="463" y="45.6" font-size="12" fill="#ef5350" textLength="34.6" lengthAdjust="spacingAndGlyphs">−90.02</text>
<text x="503.4" y="45.6" font-size="12" fill="#ef5350" textLength="42.8" lengthAdjust="spacingAndGlyphs">(−2.31%)</text>
<circle cx="137.9" cy="41.6" r="0.95" fill="#131722"/><circle cx="162.9" cy="41.6" r="0.95" fill="#131722"/>
<text x="18" y="63.2" font-size="12" fill="#131722" textLength="21.9" lengthAdjust="spacingAndGlyphs">EMA</text>
<text x="44.6" y="63.2" font-size="12" fill="#131722" textLength="19.6" lengthAdjust="spacingAndGlyphs">(20,</text>
<text x="68.6" y="63.2" font-size="12" fill="#131722" textLength="31.1" lengthAdjust="spacingAndGlyphs">close)</text>
<text x="107.5" y="63.2" font-size="12" fill="#2962ff" textLength="46.5" lengthAdjust="spacingAndGlyphs">4,159.18</text>
<text x="18" y="80.0" font-size="12" fill="#131722" textLength="21.3" lengthAdjust="spacingAndGlyphs">SMA</text>
<text x="43.8" y="80.0" font-size="12" fill="#131722" textLength="20.2" lengthAdjust="spacingAndGlyphs">(50,</text>
<text x="68" y="80.0" font-size="12" fill="#131722" textLength="31.1" lengthAdjust="spacingAndGlyphs">close)</text>
<text x="107" y="80.0" font-size="12" fill="#f23645" textLength="46.5" lengthAdjust="spacingAndGlyphs">4,310.03</text>
<text x="18.3" y="584" font-size="12" fill="#131722" textLength="15.3" lengthAdjust="spacingAndGlyphs">RSI</text>
<text x="38.6" y="584" font-size="12" fill="#131722" textLength="20.0" lengthAdjust="spacingAndGlyphs">(14,</text>
<text x="62.6" y="584" font-size="12" fill="#131722" textLength="30.8" lengthAdjust="spacingAndGlyphs">close)</text>
<text x="101.7" y="584" font-size="12" fill="#7e57c2" textLength="29.5" lengthAdjust="spacingAndGlyphs">39.03</text>
<text x="138.4" y="584" font-size="12" fill="#fdd835" textLength="30" lengthAdjust="spacingAndGlyphs">47.88</text>
<rect x="1292.5" y="30.5" width="58.5" height="27" rx="4.5" fill="#fff" stroke="#e6e8ee" stroke-width="1"/>
<text x="1302.5" y="48.6" font-size="12" fill="#131722" textLength="26.5" lengthAdjust="spacingAndGlyphs">USDT</text>
<text x="1298.2" y="85.4" font-size="12" fill="#131722" textLength="46.6" lengthAdjust="spacingAndGlyphs">4,750.00</text>
<text x="1298.2" y="119.4" font-size="12" fill="#131722" textLength="46.6" lengthAdjust="spacingAndGlyphs">4,500.00</text>
<text x="1298.2" y="152.9" font-size="12" fill="#131722" textLength="46.6" lengthAdjust="spacingAndGlyphs">4,250.00</text>
<text x="1298.2" y="186.9" font-size="12" fill="#131722" textLength="46.6" lengthAdjust="spacingAndGlyphs">4,000.00</text>
<text x="1298.2" y="287.9" font-size="12" fill="#131722" textLength="46.6" lengthAdjust="spacingAndGlyphs">3,250.00</text>
<text x="1298.2" y="321.9" font-size="12" fill="#131722" textLength="46.6" lengthAdjust="spacingAndGlyphs">3,000.00</text>
<text x="1298.2" y="355.4" font-size="12" fill="#131722" textLength="46.6" lengthAdjust="spacingAndGlyphs">2,750.00</text>
<text x="1298.2" y="388.9" font-size="12" fill="#131722" textLength="46.6" lengthAdjust="spacingAndGlyphs">2,500.00</text>
<text x="1298.2" y="422.9" font-size="12" fill="#131722" textLength="46.6" lengthAdjust="spacingAndGlyphs">2,250.00</text>
<text x="1298.2" y="456.4" font-size="12" fill="#131722" textLength="46.6" lengthAdjust="spacingAndGlyphs">2,000.00</text>
<text x="1298.2" y="490.4" font-size="12" fill="#131722" textLength="46.6" lengthAdjust="spacingAndGlyphs">1,750.00</text>
<text x="1298.2" y="523.9" font-size="12" fill="#131722" textLength="46.6" lengthAdjust="spacingAndGlyphs">1,500.00</text>
<text x="1298.2" y="557.9" font-size="12" fill="#131722" textLength="46.6" lengthAdjust="spacingAndGlyphs">1,250.00</text>
<text x="1298.4" y="597.7" font-size="12" fill="#131722" textLength="29" lengthAdjust="spacingAndGlyphs">80.00</text>
<text x="1298.4" y="648.6" font-size="12" fill="#131722" textLength="29" lengthAdjust="spacingAndGlyphs">60.00</text>
<rect x="1239.2" y="133" width="110.79999999999995" height="16.80000000000001" rx="2.5" fill="#f23645"/>
<line x1="1289.5" y1="133" x2="1289.5" y2="149.8" stroke="#fff" stroke-opacity="0.35"/>
<text x="1243.7" y="145.7" font-size="12" fill="#fff" stroke="#fff" stroke-width="0.45" textLength="41.5" lengthAdjust="spacingAndGlyphs">SMA:MA</text>
<text x="1298.2" y="145.7" font-size="12" fill="#fff" stroke="#fff" stroke-width="0.45" textLength="46.2" lengthAdjust="spacingAndGlyphs">4,310.03</text>
<rect x="1258" y="154.2" width="92" height="16.600000000000023" rx="2.5" fill="#2962ff"/>
<line x1="1289.5" y1="154.2" x2="1289.5" y2="170.8" stroke="#fff" stroke-opacity="0.35"/>
<text x="1263" y="166.9" font-size="12" fill="#fff" stroke="#fff" stroke-width="0.45" textLength="22.5" lengthAdjust="spacingAndGlyphs">EMA</text>
<text x="1298.2" y="166.9" font-size="12" fill="#fff" stroke="#fff" stroke-width="0.45" textLength="46.2" lengthAdjust="spacingAndGlyphs">4,159.18</text>
<path d="M1233.7,201 H1347.5 Q1350,201 1350,203.5 V245.8 H1289.5 V217.9 H1233.7 Q1231.2,217.9 1231.2,215.4 V203.5 Q1231.2,201 1233.7,201 Z" fill="#ef5350"/>
<line x1="1289.5" y1="201" x2="1289.5" y2="262.9" stroke="#fff" stroke-opacity="0.35"/>
<text x="1236" y="213.5" font-size="12" fill="#fff" stroke="#fff" stroke-width="0.45" textLength="48.5" lengthAdjust="spacingAndGlyphs">ETHUSDT</text>
<text x="1298.2" y="212.2" font-size="12" fill="#fff" stroke="#fff" stroke-width="0.45" textLength="46.2" lengthAdjust="spacingAndGlyphs">3,804.49</text>
<text x="1298.2" y="226.3" font-size="12" fill="#fff" stroke="#fff" stroke-width="0.45" textLength="43" lengthAdjust="spacingAndGlyphs">+24.38%</text>
<text x="1298.2" y="240.4" font-size="12" fill="#fff" stroke="#fff" stroke-width="0.45" textLength="46.2" lengthAdjust="spacingAndGlyphs" fill-opacity="0.8">07:21:49</text>
<path d="M1289.5,245.8 H1350 V260.4 Q1350,262.9 1347.5,262.9 H1289.5 Z" fill="#0000ff"/>
<text x="1298.2" y="257.8" font-size="12" fill="#fff" stroke="#fff" stroke-width="0.45" textLength="46.2" lengthAdjust="spacingAndGlyphs">3,745.00</text>
<rect x="1210" y="668.2" width="123" height="16.59999999999991" rx="2" fill="#fdd835"/>
<text x="1214.8" y="680.8" font-size="12" fill="#131722" textLength="70" lengthAdjust="spacingAndGlyphs">RSI-based MA</text>
<text x="1298.4" y="680.8" font-size="12" fill="#131722" textLength="29" lengthAdjust="spacingAndGlyphs">47.88</text>
<line x1="1289.5" y1="668.2" x2="1289.5" y2="684.8" stroke="#fff" stroke-opacity="0.45"/>
<rect x="1264" y="690.2" width="69" height="16.5" rx="2" fill="#7e57c2"/>
<text x="1269.6" y="702.4" font-size="12" fill="#fff" stroke="#fff" stroke-width="0.45" textLength="15.2" lengthAdjust="spacingAndGlyphs">RSI</text>
<text x="1298.4" y="702.4" font-size="12" fill="#fff" stroke="#fff" stroke-width="0.45" textLength="29" lengthAdjust="spacingAndGlyphs">39.03</text>
<line x1="1289.5" y1="690.2" x2="1289.5" y2="706.7" stroke="#fff" stroke-opacity="0.35"/>
<text x="66.1" y="763.2" font-size="12" fill="#131722" text-anchor="middle">Dec</text>
<text x="173.7" y="763.2" font-size="12" fill="#131722" font-weight="bold" text-anchor="middle">2025</text>
<text x="281.4" y="763.2" font-size="12" fill="#131722" text-anchor="middle">Feb</text>
<text x="378.6" y="763.2" font-size="12" fill="#131722" text-anchor="middle">Mar</text>
<text x="486.3" y="763.2" font-size="12" fill="#131722" text-anchor="middle">Apr</text>
<text x="590.5" y="763.2" font-size="12" fill="#131722" text-anchor="middle">May</text>
<text x="698.2" y="763.2" font-size="12" fill="#131722" text-anchor="middle">Jun</text>
<text x="802.4" y="763.2" font-size="12" fill="#131722" text-anchor="middle">Jul</text>
<text x="910.0" y="763.2" font-size="12" fill="#131722" text-anchor="middle">Aug</text>
<text x="1017.7" y="763.2" font-size="12" fill="#131722" text-anchor="middle">Sep</text>
<text x="1121.9" y="763.2" font-size="12" fill="#131722" text-anchor="middle">Oct</text>
<text x="1229.5" y="763.2" font-size="12" fill="#131722" text-anchor="middle">Nov</text>
<g fill="#0c0c0c">
<path d="M12,795.2 H24.1 V809.3 H17.6 V801.4 H12 Z"/>
<circle cx="28.2" cy="797.9" r="2.7"/>
<path d="M34.6,795.2 H41.7 L37.3,809.3 H30.8 Z"/>
<text x="49.2" y="809.3" font-size="19.8" fill="#0c0c0c" textLength="120.5" lengthAdjust="spacingAndGlyphs" font-weight="bold">TradingView</text>
</g>
</svg></body></html>
